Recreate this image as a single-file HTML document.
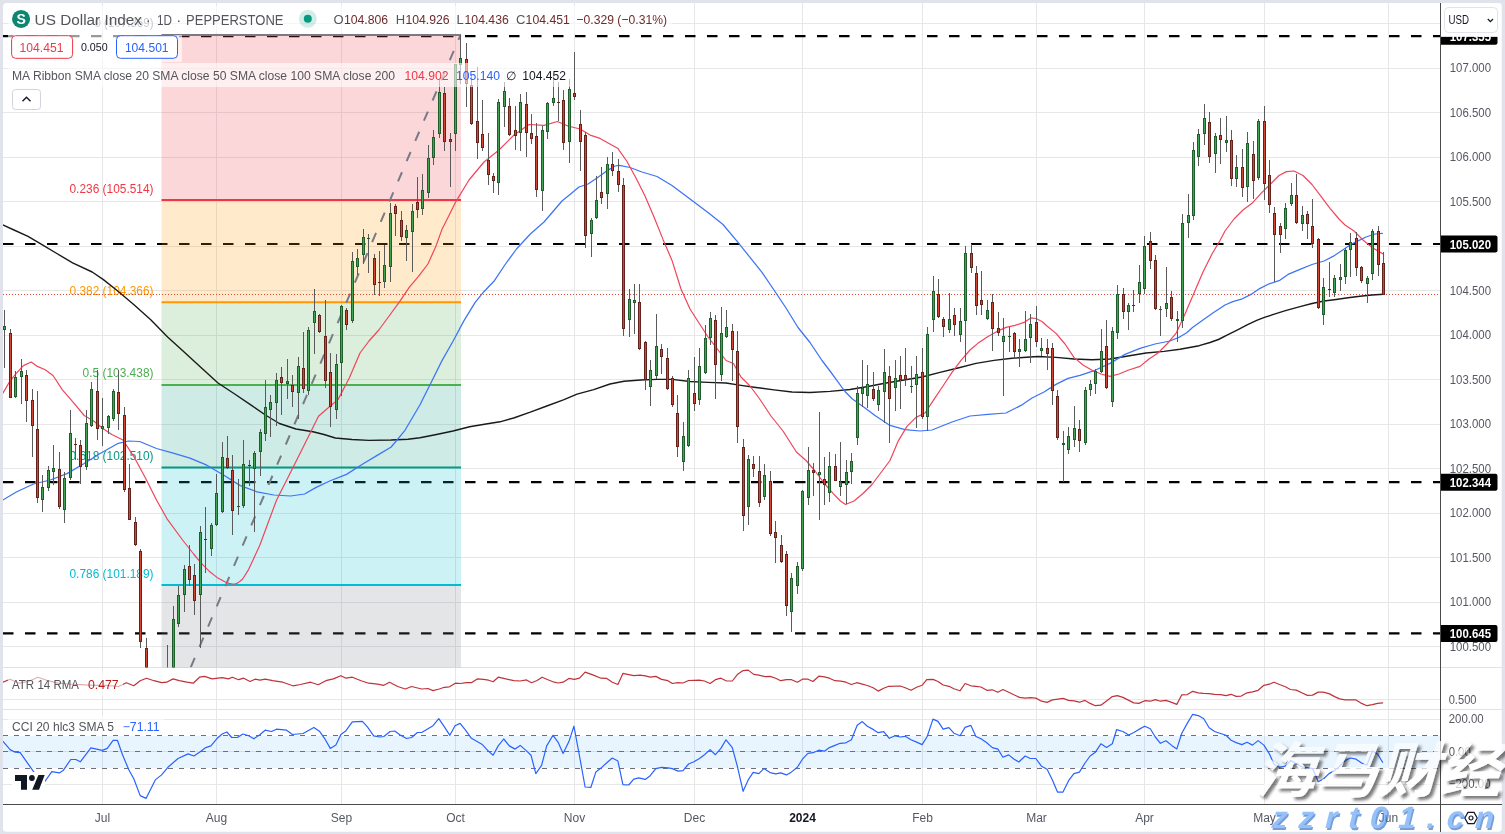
<!DOCTYPE html>
<html><head><meta charset="utf-8"><title>US Dollar Index chart</title>
<style>html,body{margin:0;padding:0;background:#e0e3eb;}body{width:1505px;height:834px;overflow:hidden;position:relative;font-family:"Liberation Sans",sans-serif;}</style>
</head><body>
<svg width="1505" height="834" viewBox="0 0 1505 834" font-family="Liberation Sans, sans-serif" style="position:absolute;left:0;top:0;will-change:transform">
<defs>
<clipPath id="c1"><rect x="3" y="3" width="1437.5" height="664.5"/></clipPath>
<clipPath id="c2"><rect x="3" y="668" width="1437.5" height="41.5"/></clipPath>
<clipPath id="c3"><rect x="3" y="710" width="1437.5" height="94"/></clipPath>
<filter id="sh" x="-5%" y="-10%" width="115%" height="130%"><feDropShadow dx="3" dy="3" stdDeviation="1.6" flood-color="#1a1a1a" flood-opacity="0.8"/></filter>
</defs>
<rect x="0" y="0" width="1505" height="834" fill="#e0e3eb"/>
<rect x="3" y="3" width="1498.7" height="828.7" rx="3.5" fill="#fff"/>
<g shape-rendering="crispEdges">
<line x1="3" x2="1440.5" y1="23.5" y2="23.5" stroke="#e7e7e8" stroke-width="1"/>
<line x1="3" x2="1440.5" y1="68.5" y2="68.5" stroke="#e7e7e8" stroke-width="1"/>
<line x1="3" x2="1440.5" y1="112.5" y2="112.5" stroke="#e7e7e8" stroke-width="1"/>
<line x1="3" x2="1440.5" y1="157.5" y2="157.5" stroke="#e7e7e8" stroke-width="1"/>
<line x1="3" x2="1440.5" y1="201.5" y2="201.5" stroke="#e7e7e8" stroke-width="1"/>
<line x1="3" x2="1440.5" y1="246.5" y2="246.5" stroke="#e7e7e8" stroke-width="1"/>
<line x1="3" x2="1440.5" y1="290.5" y2="290.5" stroke="#e7e7e8" stroke-width="1"/>
<line x1="3" x2="1440.5" y1="335.5" y2="335.5" stroke="#e7e7e8" stroke-width="1"/>
<line x1="3" x2="1440.5" y1="379.5" y2="379.5" stroke="#e7e7e8" stroke-width="1"/>
<line x1="3" x2="1440.5" y1="424.5" y2="424.5" stroke="#e7e7e8" stroke-width="1"/>
<line x1="3" x2="1440.5" y1="468.5" y2="468.5" stroke="#e7e7e8" stroke-width="1"/>
<line x1="3" x2="1440.5" y1="513.5" y2="513.5" stroke="#e7e7e8" stroke-width="1"/>
<line x1="3" x2="1440.5" y1="557.5" y2="557.5" stroke="#e7e7e8" stroke-width="1"/>
<line x1="3" x2="1440.5" y1="602.5" y2="602.5" stroke="#e7e7e8" stroke-width="1"/>
<line x1="3" x2="1440.5" y1="646.5" y2="646.5" stroke="#e7e7e8" stroke-width="1"/>
<line x1="3" x2="1440.5" y1="699.5" y2="699.5" stroke="#e7e7e8"/>
<line x1="3" x2="1440.5" y1="719.5" y2="719.5" stroke="#e7e7e8"/>
<line x1="3" x2="1440.5" y1="751.5" y2="751.5" stroke="#e7e7e8"/>
<line x1="3" x2="1440.5" y1="784.5" y2="784.5" stroke="#e7e7e8"/>
<line x1="102.5" x2="102.5" y1="3" y2="804" stroke="#e7e7e8"/>
<line x1="216.5" x2="216.5" y1="3" y2="804" stroke="#e7e7e8"/>
<line x1="341.5" x2="341.5" y1="3" y2="804" stroke="#e7e7e8"/>
<line x1="455.5" x2="455.5" y1="3" y2="804" stroke="#e7e7e8"/>
<line x1="574.5" x2="574.5" y1="3" y2="804" stroke="#e7e7e8"/>
<line x1="694.5" x2="694.5" y1="3" y2="804" stroke="#e7e7e8"/>
<line x1="802.5" x2="802.5" y1="3" y2="804" stroke="#e7e7e8"/>
<line x1="922.5" x2="922.5" y1="3" y2="804" stroke="#e7e7e8"/>
<line x1="1036.5" x2="1036.5" y1="3" y2="804" stroke="#e7e7e8"/>
<line x1="1144.5" x2="1144.5" y1="3" y2="804" stroke="#e7e7e8"/>
<line x1="1264.5" x2="1264.5" y1="3" y2="804" stroke="#e7e7e8"/>
<line x1="1388.5" x2="1388.5" y1="3" y2="804" stroke="#e7e7e8"/>
<line x1="3" x2="1501.7" y1="667.5" y2="667.5" stroke="#dfe2ea" stroke-width="1"/>
<line x1="3" x2="1501.7" y1="709.5" y2="709.5" stroke="#dfe2ea" stroke-width="1"/>
</g>
<g clip-path="url(#c1)">
<line x1="3" x2="1440.5" y1="36.2" y2="36.2" stroke="#000" stroke-width="2.2" stroke-dasharray="10.5 11.5"/>
<line x1="3" x2="1440.5" y1="244.0" y2="244.0" stroke="#000" stroke-width="2.2" stroke-dasharray="10.5 11.5"/>
<line x1="3" x2="1440.5" y1="482.2" y2="482.2" stroke="#000" stroke-width="2.2" stroke-dasharray="10.5 11.5"/>
<line x1="3" x2="1440.5" y1="633.4" y2="633.4" stroke="#000" stroke-width="2.2" stroke-dasharray="10.5 11.5"/>
<rect x="161.5" y="35.0" width="299.5" height="165.2" fill="#f23645" fill-opacity="0.2"/>
<rect x="161.5" y="200.1" width="299.5" height="102.2" fill="#ff9800" fill-opacity="0.2"/>
<rect x="161.5" y="302.3" width="299.5" height="82.6" fill="#4caf50" fill-opacity="0.2"/>
<rect x="161.5" y="384.9" width="299.5" height="82.6" fill="#089981" fill-opacity="0.2"/>
<rect x="161.5" y="467.5" width="299.5" height="117.6" fill="#00bcd4" fill-opacity="0.2"/>
<rect x="161.5" y="585.1" width="299.5" height="149.8" fill="#787b86" fill-opacity="0.2"/>
<line x1="161.5" x2="461" y1="35.0" y2="35.0" stroke="#787b86" stroke-width="2"/>
<line x1="161.5" x2="461" y1="200.1" y2="200.1" stroke="#f23645" stroke-width="2"/>
<line x1="161.5" x2="461" y1="302.3" y2="302.3" stroke="#ff9800" stroke-width="2"/>
<line x1="161.5" x2="461" y1="384.9" y2="384.9" stroke="#4caf50" stroke-width="2"/>
<line x1="161.5" x2="461" y1="467.5" y2="467.5" stroke="#089981" stroke-width="2"/>
<line x1="161.5" x2="461" y1="585.1" y2="585.1" stroke="#00bcd4" stroke-width="2"/>
<line x1="161.5" x2="461" y1="734.9" y2="734.9" stroke="#787b86" stroke-width="2"/>
<text x="94.5" y="27.4" font-size="12.3" fill="#787b86" text-anchor="start" textLength="59.0" lengthAdjust="spacingAndGlyphs" >0 (107.369)</text>
<text x="69.5" y="192.5" font-size="12.3" fill="#f23645" text-anchor="start" textLength="84.0" lengthAdjust="spacingAndGlyphs" >0.236 (105.514)</text>
<text x="69.5" y="294.7" font-size="12.3" fill="#ff9800" text-anchor="start" textLength="84.0" lengthAdjust="spacingAndGlyphs" >0.382 (104.366)</text>
<text x="82.5" y="377.3" font-size="12.3" fill="#4caf50" text-anchor="start" textLength="71.0" lengthAdjust="spacingAndGlyphs" >0.5 (103.438)</text>
<text x="69.5" y="459.9" font-size="12.3" fill="#089981" text-anchor="start" textLength="84.0" lengthAdjust="spacingAndGlyphs" >0.618 (102.510)</text>
<text x="69.5" y="577.5" font-size="12.3" fill="#00bcd4" text-anchor="start" textLength="84.0" lengthAdjust="spacingAndGlyphs" >0.786 (101.189)</text>
<line x1="3" x2="1440.5" y1="294.5" y2="294.5" stroke="#e0492f" stroke-width="1" stroke-dasharray="1 2" shape-rendering="crispEdges"/>
<line x1="460.5" y1="35.0" x2="161.9" y2="734.9" stroke="#787b86" stroke-width="2" stroke-dasharray="10 12" stroke-dashoffset="4.8"/>
<polyline points="2.8,225.0 14.0,230.0 28.0,236.3 42.0,244.7 56.0,253.0 72.6,262.9 92.2,272.0 103.4,279.6 117.4,290.8 134.0,304.8 151.0,320.0 167.6,337.0 184.4,352.3 201.0,367.6 218.0,383.0 234.7,394.0 251.5,405.4 265.4,415.0 279.4,423.5 296.0,429.0 313.0,431.7 324.0,434.5 335.3,438.0 352.0,439.5 368.8,440.4 391.2,440.0 408.0,439.2 420.0,437.8 436.5,434.5 453.0,431.0 469.6,426.8 486.0,424.0 500.0,421.8 513.7,418.0 530.3,412.2 546.8,406.0 563.4,399.8 577.0,394.2 593.7,389.6 610.0,384.0 624.0,381.3 640.6,380.0 657.0,379.4 672.0,379.4 690.0,381.5 708.0,382.4 726.0,383.0 741.0,385.4 756.0,387.5 774.0,389.9 792.0,392.0 810.0,392.5 830.0,391.4 850.0,389.5 868.0,386.5 886.0,383.0 904.0,380.0 922.0,377.0 940.0,372.4 958.0,368.0 976.0,363.4 994.0,360.4 1012.0,358.3 1030.0,357.0 1038.0,356.5 1056.0,357.4 1074.0,359.0 1092.0,359.8 1110.0,359.0 1128.0,356.0 1146.0,353.0 1164.0,351.4 1180.0,349.3 1199.2,345.7 1210.0,342.5 1218.4,339.5 1228.0,334.7 1237.6,329.9 1247.1,324.9 1256.7,320.3 1264.4,317.4 1275.9,313.6 1285.5,310.7 1300.0,306.7 1312.0,303.5 1324.0,301.0 1336.0,299.5 1348.0,297.8 1360.0,296.3 1372.0,295.0 1383.6,294.2" fill="none" stroke="#1a1a1a" stroke-width="1.4" stroke-linejoin="round" stroke-linecap="round" />
<polyline points="2.8,500.0 16.8,491.8 33.5,484.0 50.3,480.0 67.0,473.6 83.8,463.8 100.6,453.2 117.4,443.7 128.5,441.0 139.7,441.5 156.5,448.5 173.2,453.2 190.0,458.2 206.8,465.2 223.5,475.0 240.3,485.6 257.0,491.8 273.8,495.0 290.6,496.0 304.6,494.0 315.7,487.6 329.7,481.0 346.5,474.4 363.2,463.8 377.2,455.4 391.2,447.0 405.0,430.3 420.0,404.7 431.0,382.7 442.0,360.6 453.0,341.3 464.0,320.6 475.0,302.7 483.4,292.2 494.4,280.7 505.5,264.0 516.5,249.0 530.3,234.0 544.0,222.0 562.0,201.0 570.0,194.5 579.0,187.0 588.0,184.0 597.0,178.0 606.0,171.4 615.0,166.0 619.5,165.4 630.0,167.5 642.0,172.0 657.0,176.5 672.0,185.5 690.0,199.0 708.0,212.5 723.0,224.5 738.0,242.4 750.0,257.4 762.0,272.4 774.0,290.0 786.0,308.0 798.0,327.5 810.0,342.5 822.0,360.5 830.0,371.0 845.0,391.5 852.4,399.0 863.0,406.5 875.0,415.5 890.0,425.4 905.0,429.6 920.0,431.0 932.0,430.0 937.0,428.0 952.0,422.0 970.0,416.0 988.0,414.4 1006.0,413.0 1021.0,405.4 1032.0,398.0 1044.0,392.0 1056.0,384.4 1068.0,378.4 1080.0,375.4 1095.0,370.3 1110.0,363.4 1125.0,354.4 1140.0,348.4 1155.0,344.0 1170.0,341.0 1180.0,336.8 1186.7,332.8 1192.5,327.5 1204.0,319.3 1213.6,312.6 1225.0,305.0 1232.8,301.6 1241.4,299.2 1251.0,294.4 1259.6,288.6 1269.2,283.8 1279.8,280.3 1288.0,274.4 1300.0,269.3 1312.0,264.5 1324.0,261.0 1333.0,256.4 1342.0,250.4 1350.0,245.0 1357.0,241.4 1366.0,237.0 1375.0,234.0 1382.4,233.3" fill="none" stroke="#3d74f5" stroke-width="1.25" stroke-linejoin="round" stroke-linecap="round" />
<polyline points="3.1,392.9 9.4,382.0 15.6,374.2 23.4,365.6 31.2,362.0 37.4,366.4 45.2,369.8 53.0,375.5 62.4,389.8 73.3,402.3 84.2,415.5 93.6,421.0 102.8,428.5 111.8,434.5 123.0,440.0 134.0,456.8 145.3,477.8 156.5,500.0 167.6,519.7 182.6,540.0 193.6,554.0 201.4,563.4 209.2,571.2 217.0,577.4 224.8,581.8 229.0,583.4 232.6,584.0 235.5,583.8 238.0,582.9 242.7,579.0 248.1,570.4 253.6,558.7 260.0,544.7 268.2,522.5 276.6,500.0 290.6,472.2 304.6,444.3 318.5,416.3 329.7,406.5 338.0,399.6 349.3,378.0 360.0,353.0 369.0,341.0 378.8,330.0 387.3,318.5 399.8,301.4 409.2,287.3 418.5,276.4 427.9,264.0 435.7,246.8 441.9,229.6 448.1,217.2 455.9,201.6 469.0,180.0 484.0,162.0 499.0,150.0 514.0,135.0 529.0,124.5 544.0,125.4 557.4,121.5 568.0,126.0 580.0,129.0 591.0,135.4 600.0,138.4 609.0,143.5 618.0,148.6 627.0,161.5 636.0,178.0 645.0,196.0 654.0,217.0 663.0,239.4 672.0,260.4 681.0,289.0 690.0,309.0 699.0,323.0 708.0,337.0 717.0,348.5 726.0,360.5 733.4,363.5 741.0,377.0 750.0,386.0 759.0,398.0 771.0,416.0 783.0,431.0 796.4,452.0 806.0,460.5 815.0,471.0 824.0,483.0 833.0,493.4 840.4,501.0 845.5,504.5 854.0,501.0 863.0,493.5 872.0,484.5 881.0,472.5 890.0,460.5 898.0,441.4 907.0,426.4 916.0,417.4 925.0,413.0 934.0,399.4 943.0,386.0 952.0,372.4 961.0,360.4 970.0,350.0 979.0,342.4 988.0,336.4 997.0,331.4 1006.0,327.4 1015.0,325.4 1024.0,322.4 1030.8,317.9 1036.0,318.5 1042.0,321.5 1047.0,326.0 1056.0,333.4 1065.0,344.0 1074.0,357.4 1083.0,365.0 1092.0,370.3 1101.0,374.0 1110.0,376.3 1119.0,374.0 1128.0,370.3 1140.0,366.4 1149.0,359.0 1158.0,353.0 1167.0,344.0 1176.0,333.4 1185.0,314.0 1194.0,293.0 1203.0,272.0 1212.0,254.0 1220.0,240.5 1225.0,231.0 1234.0,219.0 1243.0,210.0 1252.0,203.3 1261.0,193.4 1270.0,184.5 1279.0,175.5 1286.4,171.6 1294.0,171.0 1303.0,175.5 1312.0,184.5 1321.0,196.4 1330.0,208.4 1339.0,219.0 1345.0,225.0 1354.0,231.0 1363.0,240.0 1372.0,247.4 1383.6,254.3" fill="none" stroke="#f0455a" stroke-width="1.2" stroke-linejoin="round" stroke-linecap="round" />
<g shape-rendering="crispEdges">
<rect x="4" y="310" width="1" height="58" fill="#5a5a5a"/>
<rect x="3" y="326" width="3" height="4" fill="#1d5e2b"/>
<rect x="4" y="327" width="1" height="2" fill="#41a353"/>
<rect x="10" y="329" width="1" height="69" fill="#5a5a5a"/>
<rect x="9" y="333" width="3" height="65" fill="#64221a"/>
<rect x="10" y="334" width="1" height="63" fill="#cf4733"/>
<rect x="15" y="371" width="1" height="27" fill="#5a5a5a"/>
<rect x="14" y="377" width="3" height="20" fill="#1d5e2b"/>
<rect x="15" y="378" width="1" height="18" fill="#41a353"/>
<rect x="21" y="359" width="1" height="45" fill="#5a5a5a"/>
<rect x="20" y="371" width="3" height="6" fill="#1d5e2b"/>
<rect x="21" y="372" width="1" height="4" fill="#41a353"/>
<rect x="26" y="370" width="1" height="52" fill="#5a5a5a"/>
<rect x="25" y="375" width="3" height="26" fill="#64221a"/>
<rect x="26" y="376" width="1" height="24" fill="#cf4733"/>
<rect x="32" y="389" width="1" height="68" fill="#5a5a5a"/>
<rect x="31" y="400" width="3" height="26" fill="#64221a"/>
<rect x="32" y="401" width="1" height="24" fill="#cf4733"/>
<rect x="37" y="391" width="1" height="112" fill="#5a5a5a"/>
<rect x="36" y="429" width="3" height="69" fill="#64221a"/>
<rect x="37" y="430" width="1" height="67" fill="#cf4733"/>
<rect x="42" y="475" width="1" height="37" fill="#5a5a5a"/>
<rect x="41" y="487" width="3" height="13" fill="#1d5e2b"/>
<rect x="42" y="488" width="1" height="11" fill="#41a353"/>
<rect x="48" y="466" width="1" height="25" fill="#5a5a5a"/>
<rect x="47" y="470" width="3" height="18" fill="#1d5e2b"/>
<rect x="48" y="471" width="1" height="16" fill="#41a353"/>
<rect x="53" y="445" width="1" height="40" fill="#5a5a5a"/>
<rect x="52" y="468" width="3" height="4" fill="#1d5e2b"/>
<rect x="53" y="469" width="1" height="2" fill="#41a353"/>
<rect x="59" y="452" width="1" height="57" fill="#5a5a5a"/>
<rect x="58" y="469" width="3" height="38" fill="#64221a"/>
<rect x="59" y="470" width="1" height="36" fill="#cf4733"/>
<rect x="64" y="472" width="1" height="51" fill="#5a5a5a"/>
<rect x="63" y="478" width="3" height="32" fill="#1d5e2b"/>
<rect x="64" y="479" width="1" height="30" fill="#41a353"/>
<rect x="70" y="410" width="1" height="70" fill="#5a5a5a"/>
<rect x="69" y="433" width="3" height="45" fill="#1d5e2b"/>
<rect x="70" y="434" width="1" height="43" fill="#41a353"/>
<rect x="75" y="438" width="1" height="22" fill="#5a5a5a"/>
<rect x="74" y="444" width="3" height="1" fill="#64221a"/>
<rect x="80" y="440" width="1" height="44" fill="#5a5a5a"/>
<rect x="79" y="445" width="3" height="22" fill="#64221a"/>
<rect x="80" y="446" width="1" height="20" fill="#cf4733"/>
<rect x="86" y="410" width="1" height="60" fill="#5a5a5a"/>
<rect x="85" y="423" width="3" height="44" fill="#1d5e2b"/>
<rect x="86" y="424" width="1" height="42" fill="#41a353"/>
<rect x="91" y="382" width="1" height="45" fill="#5a5a5a"/>
<rect x="90" y="389" width="3" height="37" fill="#1d5e2b"/>
<rect x="91" y="390" width="1" height="35" fill="#41a353"/>
<rect x="97" y="370" width="1" height="70" fill="#5a5a5a"/>
<rect x="96" y="391" width="3" height="38" fill="#64221a"/>
<rect x="97" y="392" width="1" height="36" fill="#cf4733"/>
<rect x="102" y="398" width="1" height="48" fill="#5a5a5a"/>
<rect x="101" y="426" width="3" height="3" fill="#1d5e2b"/>
<rect x="102" y="427" width="1" height="1" fill="#41a353"/>
<rect x="108" y="415" width="1" height="19" fill="#5a5a5a"/>
<rect x="107" y="416" width="3" height="12" fill="#1d5e2b"/>
<rect x="108" y="417" width="1" height="10" fill="#41a353"/>
<rect x="113" y="389" width="1" height="32" fill="#5a5a5a"/>
<rect x="112" y="391" width="3" height="28" fill="#1d5e2b"/>
<rect x="113" y="392" width="1" height="26" fill="#41a353"/>
<rect x="118" y="370" width="1" height="60" fill="#5a5a5a"/>
<rect x="117" y="392" width="3" height="22" fill="#64221a"/>
<rect x="118" y="393" width="1" height="20" fill="#cf4733"/>
<rect x="124" y="407" width="1" height="85" fill="#5a5a5a"/>
<rect x="123" y="415" width="3" height="75" fill="#64221a"/>
<rect x="124" y="416" width="1" height="73" fill="#cf4733"/>
<rect x="129" y="464" width="1" height="56" fill="#5a5a5a"/>
<rect x="128" y="488" width="3" height="32" fill="#64221a"/>
<rect x="129" y="489" width="1" height="30" fill="#cf4733"/>
<rect x="135" y="517" width="1" height="29" fill="#5a5a5a"/>
<rect x="134" y="522" width="3" height="23" fill="#64221a"/>
<rect x="135" y="523" width="1" height="21" fill="#cf4733"/>
<rect x="140" y="549" width="1" height="99" fill="#5a5a5a"/>
<rect x="139" y="551" width="3" height="91" fill="#64221a"/>
<rect x="140" y="552" width="1" height="89" fill="#cf4733"/>
<rect x="146" y="638" width="1" height="58" fill="#5a5a5a"/>
<rect x="145" y="648" width="3" height="42" fill="#64221a"/>
<rect x="146" y="649" width="1" height="40" fill="#cf4733"/>
<rect x="151" y="687" width="1" height="36" fill="#5a5a5a"/>
<rect x="150" y="690" width="3" height="30" fill="#64221a"/>
<rect x="151" y="691" width="1" height="28" fill="#cf4733"/>
<rect x="156" y="720" width="1" height="33" fill="#5a5a5a"/>
<rect x="155" y="720" width="3" height="30" fill="#64221a"/>
<rect x="156" y="721" width="1" height="28" fill="#cf4733"/>
<rect x="162" y="717" width="1" height="36" fill="#5a5a5a"/>
<rect x="161" y="720" width="3" height="30" fill="#1d5e2b"/>
<rect x="162" y="721" width="1" height="28" fill="#41a353"/>
<rect x="167" y="645" width="1" height="78" fill="#5a5a5a"/>
<rect x="166" y="690" width="3" height="30" fill="#1d5e2b"/>
<rect x="167" y="691" width="1" height="28" fill="#41a353"/>
<rect x="173" y="606" width="1" height="85" fill="#5a5a5a"/>
<rect x="172" y="619" width="3" height="71" fill="#1d5e2b"/>
<rect x="173" y="620" width="1" height="69" fill="#41a353"/>
<rect x="178" y="586" width="1" height="41" fill="#5a5a5a"/>
<rect x="177" y="595" width="3" height="29" fill="#1d5e2b"/>
<rect x="178" y="596" width="1" height="27" fill="#41a353"/>
<rect x="184" y="565" width="1" height="47" fill="#5a5a5a"/>
<rect x="183" y="569" width="3" height="26" fill="#1d5e2b"/>
<rect x="184" y="570" width="1" height="24" fill="#41a353"/>
<rect x="189" y="545" width="1" height="41" fill="#5a5a5a"/>
<rect x="188" y="566" width="3" height="14" fill="#64221a"/>
<rect x="189" y="567" width="1" height="12" fill="#cf4733"/>
<rect x="194" y="564" width="1" height="51" fill="#5a5a5a"/>
<rect x="193" y="575" width="3" height="26" fill="#64221a"/>
<rect x="194" y="576" width="1" height="24" fill="#cf4733"/>
<rect x="200" y="526" width="1" height="122" fill="#5a5a5a"/>
<rect x="199" y="532" width="3" height="63" fill="#1d5e2b"/>
<rect x="200" y="533" width="1" height="61" fill="#41a353"/>
<rect x="205" y="507" width="1" height="66" fill="#5a5a5a"/>
<rect x="204" y="539" width="3" height="1" fill="#64221a"/>
<rect x="211" y="523" width="1" height="33" fill="#5a5a5a"/>
<rect x="210" y="525" width="3" height="24" fill="#1d5e2b"/>
<rect x="211" y="526" width="1" height="22" fill="#41a353"/>
<rect x="216" y="474" width="1" height="52" fill="#5a5a5a"/>
<rect x="215" y="493" width="3" height="32" fill="#1d5e2b"/>
<rect x="216" y="494" width="1" height="30" fill="#41a353"/>
<rect x="222" y="442" width="1" height="71" fill="#5a5a5a"/>
<rect x="221" y="457" width="3" height="55" fill="#1d5e2b"/>
<rect x="222" y="458" width="1" height="53" fill="#41a353"/>
<rect x="227" y="436" width="1" height="33" fill="#5a5a5a"/>
<rect x="226" y="458" width="3" height="10" fill="#64221a"/>
<rect x="227" y="459" width="1" height="8" fill="#cf4733"/>
<rect x="232" y="455" width="1" height="80" fill="#5a5a5a"/>
<rect x="231" y="470" width="3" height="41" fill="#64221a"/>
<rect x="232" y="471" width="1" height="39" fill="#cf4733"/>
<rect x="238" y="479" width="1" height="36" fill="#5a5a5a"/>
<rect x="237" y="506" width="3" height="1" fill="#1d5e2b"/>
<rect x="243" y="440" width="1" height="68" fill="#5a5a5a"/>
<rect x="242" y="464" width="3" height="42" fill="#1d5e2b"/>
<rect x="243" y="465" width="1" height="40" fill="#41a353"/>
<rect x="249" y="460" width="1" height="26" fill="#5a5a5a"/>
<rect x="248" y="465" width="3" height="1" fill="#64221a"/>
<rect x="254" y="451" width="1" height="81" fill="#5a5a5a"/>
<rect x="253" y="453" width="3" height="16" fill="#1d5e2b"/>
<rect x="254" y="454" width="1" height="14" fill="#41a353"/>
<rect x="260" y="429" width="1" height="47" fill="#5a5a5a"/>
<rect x="259" y="432" width="3" height="20" fill="#1d5e2b"/>
<rect x="260" y="433" width="1" height="18" fill="#41a353"/>
<rect x="265" y="380" width="1" height="61" fill="#5a5a5a"/>
<rect x="264" y="407" width="3" height="27" fill="#1d5e2b"/>
<rect x="265" y="408" width="1" height="25" fill="#41a353"/>
<rect x="270" y="395" width="1" height="42" fill="#5a5a5a"/>
<rect x="269" y="402" width="3" height="8" fill="#1d5e2b"/>
<rect x="270" y="403" width="1" height="6" fill="#41a353"/>
<rect x="276" y="373" width="1" height="53" fill="#5a5a5a"/>
<rect x="275" y="380" width="3" height="23" fill="#1d5e2b"/>
<rect x="276" y="381" width="1" height="21" fill="#41a353"/>
<rect x="281" y="367" width="1" height="48" fill="#5a5a5a"/>
<rect x="280" y="377" width="3" height="6" fill="#64221a"/>
<rect x="281" y="378" width="1" height="4" fill="#cf4733"/>
<rect x="287" y="359" width="1" height="40" fill="#5a5a5a"/>
<rect x="286" y="381" width="3" height="3" fill="#1d5e2b"/>
<rect x="287" y="382" width="1" height="1" fill="#41a353"/>
<rect x="292" y="375" width="1" height="32" fill="#5a5a5a"/>
<rect x="291" y="385" width="3" height="7" fill="#64221a"/>
<rect x="292" y="386" width="1" height="5" fill="#cf4733"/>
<rect x="298" y="357" width="1" height="62" fill="#5a5a5a"/>
<rect x="297" y="366" width="3" height="27" fill="#1d5e2b"/>
<rect x="298" y="367" width="1" height="25" fill="#41a353"/>
<rect x="303" y="332" width="1" height="61" fill="#5a5a5a"/>
<rect x="302" y="368" width="3" height="21" fill="#64221a"/>
<rect x="303" y="369" width="1" height="19" fill="#cf4733"/>
<rect x="308" y="327" width="1" height="68" fill="#5a5a5a"/>
<rect x="307" y="330" width="3" height="61" fill="#1d5e2b"/>
<rect x="308" y="331" width="1" height="59" fill="#41a353"/>
<rect x="314" y="289" width="1" height="65" fill="#5a5a5a"/>
<rect x="313" y="311" width="3" height="12" fill="#1d5e2b"/>
<rect x="314" y="312" width="1" height="10" fill="#41a353"/>
<rect x="319" y="314" width="1" height="19" fill="#5a5a5a"/>
<rect x="318" y="315" width="3" height="17" fill="#64221a"/>
<rect x="319" y="316" width="1" height="15" fill="#cf4733"/>
<rect x="325" y="300" width="1" height="88" fill="#5a5a5a"/>
<rect x="324" y="336" width="3" height="45" fill="#64221a"/>
<rect x="325" y="337" width="1" height="43" fill="#cf4733"/>
<rect x="330" y="353" width="1" height="74" fill="#5a5a5a"/>
<rect x="329" y="372" width="3" height="35" fill="#64221a"/>
<rect x="330" y="373" width="1" height="33" fill="#cf4733"/>
<rect x="336" y="354" width="1" height="65" fill="#5a5a5a"/>
<rect x="335" y="364" width="3" height="46" fill="#1d5e2b"/>
<rect x="336" y="365" width="1" height="44" fill="#41a353"/>
<rect x="341" y="305" width="1" height="91" fill="#5a5a5a"/>
<rect x="340" y="306" width="3" height="57" fill="#1d5e2b"/>
<rect x="341" y="307" width="1" height="55" fill="#41a353"/>
<rect x="346" y="308" width="1" height="22" fill="#5a5a5a"/>
<rect x="345" y="310" width="3" height="15" fill="#64221a"/>
<rect x="346" y="311" width="1" height="13" fill="#cf4733"/>
<rect x="352" y="252" width="1" height="71" fill="#5a5a5a"/>
<rect x="351" y="261" width="3" height="60" fill="#1d5e2b"/>
<rect x="352" y="262" width="1" height="58" fill="#41a353"/>
<rect x="357" y="249" width="1" height="26" fill="#5a5a5a"/>
<rect x="356" y="258" width="3" height="9" fill="#1d5e2b"/>
<rect x="357" y="259" width="1" height="7" fill="#41a353"/>
<rect x="363" y="229" width="1" height="35" fill="#5a5a5a"/>
<rect x="362" y="237" width="3" height="18" fill="#1d5e2b"/>
<rect x="363" y="238" width="1" height="16" fill="#41a353"/>
<rect x="368" y="234" width="1" height="39" fill="#5a5a5a"/>
<rect x="367" y="238" width="3" height="1" fill="#1d5e2b"/>
<rect x="374" y="254" width="1" height="41" fill="#5a5a5a"/>
<rect x="373" y="258" width="3" height="27" fill="#64221a"/>
<rect x="374" y="259" width="1" height="25" fill="#cf4733"/>
<rect x="379" y="251" width="1" height="45" fill="#5a5a5a"/>
<rect x="378" y="282" width="3" height="1" fill="#64221a"/>
<rect x="384" y="245" width="1" height="43" fill="#5a5a5a"/>
<rect x="383" y="265" width="3" height="17" fill="#1d5e2b"/>
<rect x="384" y="266" width="1" height="15" fill="#41a353"/>
<rect x="390" y="203" width="1" height="79" fill="#5a5a5a"/>
<rect x="389" y="213" width="3" height="54" fill="#1d5e2b"/>
<rect x="390" y="214" width="1" height="52" fill="#41a353"/>
<rect x="395" y="204" width="1" height="32" fill="#5a5a5a"/>
<rect x="394" y="206" width="3" height="8" fill="#64221a"/>
<rect x="395" y="207" width="1" height="6" fill="#cf4733"/>
<rect x="401" y="211" width="1" height="30" fill="#5a5a5a"/>
<rect x="400" y="220" width="3" height="17" fill="#64221a"/>
<rect x="401" y="221" width="1" height="15" fill="#cf4733"/>
<rect x="406" y="225" width="1" height="36" fill="#5a5a5a"/>
<rect x="405" y="230" width="3" height="8" fill="#1d5e2b"/>
<rect x="406" y="231" width="1" height="6" fill="#41a353"/>
<rect x="412" y="204" width="1" height="68" fill="#5a5a5a"/>
<rect x="411" y="211" width="3" height="21" fill="#1d5e2b"/>
<rect x="412" y="212" width="1" height="19" fill="#41a353"/>
<rect x="417" y="177" width="1" height="41" fill="#5a5a5a"/>
<rect x="416" y="202" width="3" height="8" fill="#64221a"/>
<rect x="417" y="203" width="1" height="6" fill="#cf4733"/>
<rect x="422" y="174" width="1" height="41" fill="#5a5a5a"/>
<rect x="421" y="190" width="3" height="19" fill="#1d5e2b"/>
<rect x="422" y="191" width="1" height="17" fill="#41a353"/>
<rect x="428" y="145" width="1" height="53" fill="#5a5a5a"/>
<rect x="427" y="158" width="3" height="35" fill="#1d5e2b"/>
<rect x="428" y="159" width="1" height="33" fill="#41a353"/>
<rect x="433" y="130" width="1" height="35" fill="#5a5a5a"/>
<rect x="432" y="137" width="3" height="21" fill="#1d5e2b"/>
<rect x="433" y="138" width="1" height="19" fill="#41a353"/>
<rect x="439" y="79" width="1" height="59" fill="#5a5a5a"/>
<rect x="438" y="92" width="3" height="42" fill="#1d5e2b"/>
<rect x="439" y="93" width="1" height="40" fill="#41a353"/>
<rect x="444" y="87" width="1" height="64" fill="#5a5a5a"/>
<rect x="443" y="93" width="3" height="49" fill="#64221a"/>
<rect x="444" y="94" width="1" height="47" fill="#cf4733"/>
<rect x="450" y="133" width="1" height="54" fill="#5a5a5a"/>
<rect x="449" y="139" width="3" height="3" fill="#64221a"/>
<rect x="450" y="140" width="1" height="1" fill="#cf4733"/>
<rect x="455" y="64" width="1" height="87" fill="#5a5a5a"/>
<rect x="454" y="64" width="3" height="70" fill="#1d5e2b"/>
<rect x="455" y="65" width="1" height="68" fill="#41a353"/>
<rect x="460" y="35" width="1" height="49" fill="#5a5a5a"/>
<rect x="459" y="58" width="3" height="7" fill="#1d5e2b"/>
<rect x="460" y="59" width="1" height="5" fill="#41a353"/>
<rect x="466" y="43" width="1" height="64" fill="#5a5a5a"/>
<rect x="465" y="59" width="3" height="25" fill="#64221a"/>
<rect x="466" y="60" width="1" height="23" fill="#cf4733"/>
<rect x="471" y="75" width="1" height="50" fill="#5a5a5a"/>
<rect x="470" y="85" width="3" height="39" fill="#64221a"/>
<rect x="471" y="86" width="1" height="37" fill="#cf4733"/>
<rect x="477" y="67" width="1" height="92" fill="#5a5a5a"/>
<rect x="476" y="121" width="3" height="22" fill="#64221a"/>
<rect x="477" y="122" width="1" height="20" fill="#cf4733"/>
<rect x="482" y="100" width="1" height="51" fill="#5a5a5a"/>
<rect x="481" y="134" width="3" height="14" fill="#64221a"/>
<rect x="482" y="135" width="1" height="12" fill="#cf4733"/>
<rect x="488" y="133" width="1" height="52" fill="#5a5a5a"/>
<rect x="487" y="160" width="3" height="15" fill="#64221a"/>
<rect x="488" y="161" width="1" height="13" fill="#cf4733"/>
<rect x="493" y="173" width="1" height="20" fill="#5a5a5a"/>
<rect x="492" y="176" width="3" height="5" fill="#64221a"/>
<rect x="493" y="177" width="1" height="3" fill="#cf4733"/>
<rect x="498" y="99" width="1" height="96" fill="#5a5a5a"/>
<rect x="497" y="102" width="3" height="81" fill="#1d5e2b"/>
<rect x="498" y="103" width="1" height="79" fill="#41a353"/>
<rect x="504" y="82" width="1" height="45" fill="#5a5a5a"/>
<rect x="503" y="91" width="3" height="16" fill="#1d5e2b"/>
<rect x="504" y="92" width="1" height="14" fill="#41a353"/>
<rect x="509" y="98" width="1" height="38" fill="#5a5a5a"/>
<rect x="508" y="106" width="3" height="29" fill="#64221a"/>
<rect x="509" y="107" width="1" height="27" fill="#cf4733"/>
<rect x="515" y="106" width="1" height="44" fill="#5a5a5a"/>
<rect x="514" y="130" width="3" height="6" fill="#64221a"/>
<rect x="515" y="131" width="1" height="4" fill="#cf4733"/>
<rect x="520" y="94" width="1" height="57" fill="#5a5a5a"/>
<rect x="519" y="102" width="3" height="31" fill="#1d5e2b"/>
<rect x="520" y="103" width="1" height="29" fill="#41a353"/>
<rect x="526" y="92" width="1" height="65" fill="#5a5a5a"/>
<rect x="525" y="104" width="3" height="29" fill="#64221a"/>
<rect x="526" y="105" width="1" height="27" fill="#cf4733"/>
<rect x="531" y="114" width="1" height="30" fill="#5a5a5a"/>
<rect x="530" y="133" width="3" height="6" fill="#64221a"/>
<rect x="531" y="134" width="1" height="4" fill="#cf4733"/>
<rect x="536" y="123" width="1" height="74" fill="#5a5a5a"/>
<rect x="535" y="136" width="3" height="54" fill="#64221a"/>
<rect x="536" y="137" width="1" height="52" fill="#cf4733"/>
<rect x="542" y="126" width="1" height="85" fill="#5a5a5a"/>
<rect x="541" y="130" width="3" height="61" fill="#1d5e2b"/>
<rect x="542" y="131" width="1" height="59" fill="#41a353"/>
<rect x="547" y="102" width="1" height="37" fill="#5a5a5a"/>
<rect x="546" y="103" width="3" height="29" fill="#1d5e2b"/>
<rect x="547" y="104" width="1" height="27" fill="#41a353"/>
<rect x="553" y="75" width="1" height="31" fill="#5a5a5a"/>
<rect x="552" y="98" width="3" height="5" fill="#1d5e2b"/>
<rect x="553" y="99" width="1" height="3" fill="#41a353"/>
<rect x="558" y="82" width="1" height="39" fill="#5a5a5a"/>
<rect x="557" y="102" width="3" height="1" fill="#64221a"/>
<rect x="563" y="90" width="1" height="60" fill="#5a5a5a"/>
<rect x="562" y="100" width="3" height="43" fill="#64221a"/>
<rect x="563" y="101" width="1" height="41" fill="#cf4733"/>
<rect x="569" y="79" width="1" height="84" fill="#5a5a5a"/>
<rect x="568" y="89" width="3" height="53" fill="#1d5e2b"/>
<rect x="569" y="90" width="1" height="51" fill="#41a353"/>
<rect x="574" y="52" width="1" height="48" fill="#5a5a5a"/>
<rect x="573" y="93" width="3" height="4" fill="#64221a"/>
<rect x="574" y="94" width="1" height="2" fill="#cf4733"/>
<rect x="580" y="110" width="1" height="61" fill="#5a5a5a"/>
<rect x="579" y="124" width="3" height="18" fill="#64221a"/>
<rect x="580" y="125" width="1" height="16" fill="#cf4733"/>
<rect x="585" y="132" width="1" height="116" fill="#5a5a5a"/>
<rect x="584" y="135" width="3" height="101" fill="#64221a"/>
<rect x="585" y="136" width="1" height="99" fill="#cf4733"/>
<rect x="591" y="218" width="1" height="39" fill="#5a5a5a"/>
<rect x="590" y="220" width="3" height="14" fill="#1d5e2b"/>
<rect x="591" y="221" width="1" height="12" fill="#41a353"/>
<rect x="596" y="176" width="1" height="43" fill="#5a5a5a"/>
<rect x="595" y="200" width="3" height="18" fill="#1d5e2b"/>
<rect x="596" y="201" width="1" height="16" fill="#41a353"/>
<rect x="601" y="167" width="1" height="37" fill="#5a5a5a"/>
<rect x="600" y="192" width="3" height="6" fill="#64221a"/>
<rect x="601" y="193" width="1" height="4" fill="#cf4733"/>
<rect x="607" y="157" width="1" height="52" fill="#5a5a5a"/>
<rect x="606" y="164" width="3" height="30" fill="#1d5e2b"/>
<rect x="607" y="165" width="1" height="28" fill="#41a353"/>
<rect x="612" y="152" width="1" height="24" fill="#5a5a5a"/>
<rect x="611" y="164" width="3" height="7" fill="#64221a"/>
<rect x="612" y="165" width="1" height="5" fill="#cf4733"/>
<rect x="618" y="159" width="1" height="33" fill="#5a5a5a"/>
<rect x="617" y="171" width="3" height="14" fill="#64221a"/>
<rect x="618" y="172" width="1" height="12" fill="#cf4733"/>
<rect x="623" y="178" width="1" height="158" fill="#5a5a5a"/>
<rect x="622" y="185" width="3" height="144" fill="#64221a"/>
<rect x="623" y="186" width="1" height="142" fill="#cf4733"/>
<rect x="629" y="289" width="1" height="48" fill="#5a5a5a"/>
<rect x="628" y="299" width="3" height="21" fill="#1d5e2b"/>
<rect x="629" y="300" width="1" height="19" fill="#41a353"/>
<rect x="634" y="284" width="1" height="50" fill="#5a5a5a"/>
<rect x="633" y="300" width="3" height="3" fill="#1d5e2b"/>
<rect x="634" y="301" width="1" height="1" fill="#41a353"/>
<rect x="639" y="284" width="1" height="66" fill="#5a5a5a"/>
<rect x="638" y="302" width="3" height="47" fill="#64221a"/>
<rect x="639" y="303" width="1" height="45" fill="#cf4733"/>
<rect x="645" y="341" width="1" height="49" fill="#5a5a5a"/>
<rect x="644" y="342" width="3" height="38" fill="#64221a"/>
<rect x="645" y="343" width="1" height="36" fill="#cf4733"/>
<rect x="650" y="360" width="1" height="46" fill="#5a5a5a"/>
<rect x="649" y="370" width="3" height="17" fill="#1d5e2b"/>
<rect x="650" y="371" width="1" height="15" fill="#41a353"/>
<rect x="656" y="314" width="1" height="65" fill="#5a5a5a"/>
<rect x="655" y="346" width="3" height="30" fill="#1d5e2b"/>
<rect x="656" y="347" width="1" height="28" fill="#41a353"/>
<rect x="661" y="344" width="1" height="30" fill="#5a5a5a"/>
<rect x="660" y="349" width="3" height="8" fill="#64221a"/>
<rect x="661" y="350" width="1" height="6" fill="#cf4733"/>
<rect x="667" y="348" width="1" height="42" fill="#5a5a5a"/>
<rect x="666" y="358" width="3" height="31" fill="#64221a"/>
<rect x="667" y="359" width="1" height="29" fill="#cf4733"/>
<rect x="672" y="376" width="1" height="31" fill="#5a5a5a"/>
<rect x="671" y="378" width="3" height="27" fill="#64221a"/>
<rect x="672" y="379" width="1" height="25" fill="#cf4733"/>
<rect x="677" y="395" width="1" height="62" fill="#5a5a5a"/>
<rect x="676" y="413" width="3" height="34" fill="#64221a"/>
<rect x="677" y="414" width="1" height="32" fill="#cf4733"/>
<rect x="683" y="422" width="1" height="49" fill="#5a5a5a"/>
<rect x="682" y="436" width="3" height="26" fill="#1d5e2b"/>
<rect x="683" y="437" width="1" height="24" fill="#41a353"/>
<rect x="688" y="370" width="1" height="77" fill="#5a5a5a"/>
<rect x="687" y="378" width="3" height="68" fill="#1d5e2b"/>
<rect x="688" y="379" width="1" height="66" fill="#41a353"/>
<rect x="694" y="357" width="1" height="54" fill="#5a5a5a"/>
<rect x="693" y="393" width="3" height="11" fill="#64221a"/>
<rect x="694" y="394" width="1" height="9" fill="#cf4733"/>
<rect x="699" y="348" width="1" height="57" fill="#5a5a5a"/>
<rect x="698" y="366" width="3" height="34" fill="#1d5e2b"/>
<rect x="699" y="367" width="1" height="32" fill="#41a353"/>
<rect x="705" y="325" width="1" height="49" fill="#5a5a5a"/>
<rect x="704" y="338" width="3" height="35" fill="#1d5e2b"/>
<rect x="705" y="339" width="1" height="33" fill="#41a353"/>
<rect x="710" y="312" width="1" height="33" fill="#5a5a5a"/>
<rect x="709" y="318" width="3" height="20" fill="#1d5e2b"/>
<rect x="710" y="319" width="1" height="18" fill="#41a353"/>
<rect x="715" y="315" width="1" height="84" fill="#5a5a5a"/>
<rect x="714" y="320" width="3" height="45" fill="#64221a"/>
<rect x="715" y="321" width="1" height="43" fill="#cf4733"/>
<rect x="721" y="307" width="1" height="74" fill="#5a5a5a"/>
<rect x="720" y="333" width="3" height="42" fill="#1d5e2b"/>
<rect x="721" y="334" width="1" height="40" fill="#41a353"/>
<rect x="726" y="310" width="1" height="28" fill="#5a5a5a"/>
<rect x="725" y="327" width="3" height="10" fill="#1d5e2b"/>
<rect x="726" y="328" width="1" height="8" fill="#41a353"/>
<rect x="732" y="324" width="1" height="57" fill="#5a5a5a"/>
<rect x="731" y="331" width="3" height="19" fill="#64221a"/>
<rect x="732" y="332" width="1" height="17" fill="#cf4733"/>
<rect x="737" y="331" width="1" height="112" fill="#5a5a5a"/>
<rect x="736" y="351" width="3" height="76" fill="#64221a"/>
<rect x="737" y="352" width="1" height="74" fill="#cf4733"/>
<rect x="743" y="439" width="1" height="92" fill="#5a5a5a"/>
<rect x="742" y="447" width="3" height="69" fill="#64221a"/>
<rect x="743" y="448" width="1" height="67" fill="#cf4733"/>
<rect x="748" y="455" width="1" height="70" fill="#5a5a5a"/>
<rect x="747" y="459" width="3" height="48" fill="#1d5e2b"/>
<rect x="748" y="460" width="1" height="46" fill="#41a353"/>
<rect x="753" y="456" width="1" height="21" fill="#5a5a5a"/>
<rect x="752" y="464" width="3" height="5" fill="#64221a"/>
<rect x="753" y="465" width="1" height="3" fill="#cf4733"/>
<rect x="759" y="456" width="1" height="51" fill="#5a5a5a"/>
<rect x="758" y="471" width="3" height="32" fill="#64221a"/>
<rect x="759" y="472" width="1" height="30" fill="#cf4733"/>
<rect x="764" y="464" width="1" height="36" fill="#5a5a5a"/>
<rect x="763" y="475" width="3" height="22" fill="#1d5e2b"/>
<rect x="764" y="476" width="1" height="20" fill="#41a353"/>
<rect x="770" y="471" width="1" height="65" fill="#5a5a5a"/>
<rect x="769" y="481" width="3" height="53" fill="#64221a"/>
<rect x="770" y="482" width="1" height="51" fill="#cf4733"/>
<rect x="775" y="521" width="1" height="42" fill="#5a5a5a"/>
<rect x="774" y="532" width="3" height="6" fill="#64221a"/>
<rect x="775" y="533" width="1" height="4" fill="#cf4733"/>
<rect x="781" y="535" width="1" height="28" fill="#5a5a5a"/>
<rect x="780" y="545" width="3" height="17" fill="#64221a"/>
<rect x="781" y="546" width="1" height="15" fill="#cf4733"/>
<rect x="786" y="551" width="1" height="65" fill="#5a5a5a"/>
<rect x="785" y="554" width="3" height="52" fill="#64221a"/>
<rect x="786" y="555" width="1" height="50" fill="#cf4733"/>
<rect x="791" y="573" width="1" height="59" fill="#5a5a5a"/>
<rect x="790" y="578" width="3" height="34" fill="#1d5e2b"/>
<rect x="791" y="579" width="1" height="32" fill="#41a353"/>
<rect x="797" y="562" width="1" height="32" fill="#5a5a5a"/>
<rect x="796" y="566" width="3" height="20" fill="#1d5e2b"/>
<rect x="797" y="567" width="1" height="18" fill="#41a353"/>
<rect x="802" y="490" width="1" height="81" fill="#5a5a5a"/>
<rect x="801" y="491" width="3" height="78" fill="#1d5e2b"/>
<rect x="802" y="492" width="1" height="76" fill="#41a353"/>
<rect x="808" y="447" width="1" height="58" fill="#5a5a5a"/>
<rect x="807" y="470" width="3" height="28" fill="#1d5e2b"/>
<rect x="808" y="471" width="1" height="26" fill="#41a353"/>
<rect x="813" y="463" width="1" height="33" fill="#5a5a5a"/>
<rect x="812" y="470" width="3" height="3" fill="#64221a"/>
<rect x="813" y="471" width="1" height="1" fill="#cf4733"/>
<rect x="819" y="412" width="1" height="108" fill="#5a5a5a"/>
<rect x="818" y="472" width="3" height="3" fill="#1d5e2b"/>
<rect x="819" y="473" width="1" height="1" fill="#41a353"/>
<rect x="824" y="457" width="1" height="48" fill="#5a5a5a"/>
<rect x="823" y="479" width="3" height="6" fill="#64221a"/>
<rect x="824" y="480" width="1" height="4" fill="#cf4733"/>
<rect x="829" y="452" width="1" height="50" fill="#5a5a5a"/>
<rect x="828" y="466" width="3" height="27" fill="#1d5e2b"/>
<rect x="829" y="467" width="1" height="25" fill="#41a353"/>
<rect x="835" y="454" width="1" height="27" fill="#5a5a5a"/>
<rect x="834" y="466" width="3" height="15" fill="#64221a"/>
<rect x="835" y="467" width="1" height="13" fill="#cf4733"/>
<rect x="840" y="442" width="1" height="54" fill="#5a5a5a"/>
<rect x="839" y="482" width="3" height="5" fill="#1d5e2b"/>
<rect x="840" y="483" width="1" height="3" fill="#41a353"/>
<rect x="846" y="460" width="1" height="44" fill="#5a5a5a"/>
<rect x="845" y="472" width="3" height="13" fill="#1d5e2b"/>
<rect x="846" y="473" width="1" height="11" fill="#41a353"/>
<rect x="851" y="453" width="1" height="31" fill="#5a5a5a"/>
<rect x="850" y="461" width="3" height="11" fill="#1d5e2b"/>
<rect x="851" y="462" width="1" height="9" fill="#41a353"/>
<rect x="857" y="386" width="1" height="59" fill="#5a5a5a"/>
<rect x="856" y="393" width="3" height="45" fill="#1d5e2b"/>
<rect x="857" y="394" width="1" height="43" fill="#41a353"/>
<rect x="862" y="360" width="1" height="47" fill="#5a5a5a"/>
<rect x="861" y="388" width="3" height="6" fill="#1d5e2b"/>
<rect x="862" y="389" width="1" height="4" fill="#41a353"/>
<rect x="867" y="365" width="1" height="43" fill="#5a5a5a"/>
<rect x="866" y="384" width="3" height="12" fill="#1d5e2b"/>
<rect x="867" y="385" width="1" height="10" fill="#41a353"/>
<rect x="873" y="372" width="1" height="29" fill="#5a5a5a"/>
<rect x="872" y="389" width="3" height="10" fill="#64221a"/>
<rect x="873" y="390" width="1" height="8" fill="#cf4733"/>
<rect x="878" y="386" width="1" height="25" fill="#5a5a5a"/>
<rect x="877" y="390" width="3" height="15" fill="#1d5e2b"/>
<rect x="878" y="391" width="1" height="13" fill="#41a353"/>
<rect x="884" y="349" width="1" height="74" fill="#5a5a5a"/>
<rect x="883" y="372" width="3" height="20" fill="#1d5e2b"/>
<rect x="884" y="373" width="1" height="18" fill="#41a353"/>
<rect x="889" y="366" width="1" height="77" fill="#5a5a5a"/>
<rect x="888" y="376" width="3" height="23" fill="#64221a"/>
<rect x="889" y="377" width="1" height="21" fill="#cf4733"/>
<rect x="895" y="360" width="1" height="51" fill="#5a5a5a"/>
<rect x="894" y="378" width="3" height="10" fill="#1d5e2b"/>
<rect x="895" y="379" width="1" height="8" fill="#41a353"/>
<rect x="900" y="356" width="1" height="53" fill="#5a5a5a"/>
<rect x="899" y="375" width="3" height="5" fill="#64221a"/>
<rect x="900" y="376" width="1" height="3" fill="#cf4733"/>
<rect x="905" y="348" width="1" height="38" fill="#5a5a5a"/>
<rect x="904" y="375" width="3" height="5" fill="#64221a"/>
<rect x="905" y="376" width="1" height="3" fill="#cf4733"/>
<rect x="911" y="366" width="1" height="27" fill="#5a5a5a"/>
<rect x="910" y="386" width="3" height="1" fill="#1d5e2b"/>
<rect x="916" y="356" width="1" height="72" fill="#5a5a5a"/>
<rect x="915" y="374" width="3" height="11" fill="#1d5e2b"/>
<rect x="916" y="375" width="1" height="9" fill="#41a353"/>
<rect x="922" y="348" width="1" height="71" fill="#5a5a5a"/>
<rect x="921" y="372" width="3" height="45" fill="#64221a"/>
<rect x="922" y="373" width="1" height="43" fill="#cf4733"/>
<rect x="927" y="327" width="1" height="104" fill="#5a5a5a"/>
<rect x="926" y="334" width="3" height="83" fill="#1d5e2b"/>
<rect x="927" y="335" width="1" height="81" fill="#41a353"/>
<rect x="933" y="276" width="1" height="56" fill="#5a5a5a"/>
<rect x="932" y="291" width="3" height="29" fill="#1d5e2b"/>
<rect x="933" y="292" width="1" height="27" fill="#41a353"/>
<rect x="938" y="279" width="1" height="39" fill="#5a5a5a"/>
<rect x="937" y="294" width="3" height="23" fill="#64221a"/>
<rect x="938" y="295" width="1" height="21" fill="#cf4733"/>
<rect x="943" y="317" width="1" height="20" fill="#5a5a5a"/>
<rect x="942" y="319" width="3" height="8" fill="#64221a"/>
<rect x="943" y="320" width="1" height="6" fill="#cf4733"/>
<rect x="949" y="293" width="1" height="40" fill="#5a5a5a"/>
<rect x="948" y="319" width="3" height="11" fill="#1d5e2b"/>
<rect x="949" y="320" width="1" height="9" fill="#41a353"/>
<rect x="954" y="308" width="1" height="28" fill="#5a5a5a"/>
<rect x="953" y="315" width="3" height="10" fill="#64221a"/>
<rect x="954" y="316" width="1" height="8" fill="#cf4733"/>
<rect x="960" y="308" width="1" height="34" fill="#5a5a5a"/>
<rect x="959" y="321" width="3" height="14" fill="#1d5e2b"/>
<rect x="960" y="322" width="1" height="12" fill="#41a353"/>
<rect x="965" y="246" width="1" height="116" fill="#5a5a5a"/>
<rect x="964" y="253" width="3" height="68" fill="#1d5e2b"/>
<rect x="965" y="254" width="1" height="66" fill="#41a353"/>
<rect x="971" y="244" width="1" height="29" fill="#5a5a5a"/>
<rect x="970" y="253" width="3" height="15" fill="#64221a"/>
<rect x="971" y="254" width="1" height="13" fill="#cf4733"/>
<rect x="976" y="266" width="1" height="49" fill="#5a5a5a"/>
<rect x="975" y="273" width="3" height="33" fill="#64221a"/>
<rect x="976" y="274" width="1" height="31" fill="#cf4733"/>
<rect x="981" y="271" width="1" height="44" fill="#5a5a5a"/>
<rect x="980" y="300" width="3" height="5" fill="#64221a"/>
<rect x="981" y="301" width="1" height="3" fill="#cf4733"/>
<rect x="987" y="300" width="1" height="20" fill="#5a5a5a"/>
<rect x="986" y="310" width="3" height="9" fill="#1d5e2b"/>
<rect x="987" y="311" width="1" height="7" fill="#41a353"/>
<rect x="992" y="294" width="1" height="57" fill="#5a5a5a"/>
<rect x="991" y="302" width="3" height="27" fill="#64221a"/>
<rect x="992" y="303" width="1" height="25" fill="#cf4733"/>
<rect x="998" y="312" width="1" height="24" fill="#5a5a5a"/>
<rect x="997" y="328" width="3" height="5" fill="#64221a"/>
<rect x="998" y="329" width="1" height="3" fill="#cf4733"/>
<rect x="1003" y="318" width="1" height="78" fill="#5a5a5a"/>
<rect x="1002" y="336" width="3" height="6" fill="#1d5e2b"/>
<rect x="1003" y="337" width="1" height="4" fill="#41a353"/>
<rect x="1009" y="327" width="1" height="25" fill="#5a5a5a"/>
<rect x="1008" y="336" width="3" height="1" fill="#1d5e2b"/>
<rect x="1014" y="332" width="1" height="26" fill="#5a5a5a"/>
<rect x="1013" y="333" width="3" height="19" fill="#64221a"/>
<rect x="1014" y="334" width="1" height="17" fill="#cf4733"/>
<rect x="1019" y="339" width="1" height="28" fill="#5a5a5a"/>
<rect x="1018" y="349" width="3" height="3" fill="#1d5e2b"/>
<rect x="1019" y="350" width="1" height="1" fill="#41a353"/>
<rect x="1025" y="311" width="1" height="41" fill="#5a5a5a"/>
<rect x="1024" y="339" width="3" height="12" fill="#1d5e2b"/>
<rect x="1025" y="340" width="1" height="10" fill="#41a353"/>
<rect x="1030" y="314" width="1" height="49" fill="#5a5a5a"/>
<rect x="1029" y="324" width="3" height="14" fill="#1d5e2b"/>
<rect x="1030" y="325" width="1" height="12" fill="#41a353"/>
<rect x="1036" y="306" width="1" height="41" fill="#5a5a5a"/>
<rect x="1035" y="322" width="3" height="20" fill="#64221a"/>
<rect x="1036" y="323" width="1" height="18" fill="#cf4733"/>
<rect x="1041" y="338" width="1" height="18" fill="#5a5a5a"/>
<rect x="1040" y="348" width="3" height="3" fill="#1d5e2b"/>
<rect x="1041" y="349" width="1" height="1" fill="#41a353"/>
<rect x="1047" y="339" width="1" height="31" fill="#5a5a5a"/>
<rect x="1046" y="348" width="3" height="6" fill="#64221a"/>
<rect x="1047" y="349" width="1" height="4" fill="#cf4733"/>
<rect x="1052" y="343" width="1" height="62" fill="#5a5a5a"/>
<rect x="1051" y="348" width="3" height="43" fill="#64221a"/>
<rect x="1052" y="349" width="1" height="41" fill="#cf4733"/>
<rect x="1057" y="390" width="1" height="50" fill="#5a5a5a"/>
<rect x="1056" y="396" width="3" height="42" fill="#64221a"/>
<rect x="1057" y="397" width="1" height="40" fill="#cf4733"/>
<rect x="1063" y="431" width="1" height="51" fill="#5a5a5a"/>
<rect x="1062" y="443" width="3" height="2" fill="#1d5e2b"/>
<rect x="1068" y="427" width="1" height="27" fill="#5a5a5a"/>
<rect x="1067" y="436" width="3" height="14" fill="#1d5e2b"/>
<rect x="1068" y="437" width="1" height="12" fill="#41a353"/>
<rect x="1074" y="406" width="1" height="41" fill="#5a5a5a"/>
<rect x="1073" y="428" width="3" height="12" fill="#1d5e2b"/>
<rect x="1074" y="429" width="1" height="10" fill="#41a353"/>
<rect x="1079" y="420" width="1" height="32" fill="#5a5a5a"/>
<rect x="1078" y="429" width="3" height="12" fill="#64221a"/>
<rect x="1079" y="430" width="1" height="10" fill="#cf4733"/>
<rect x="1085" y="387" width="1" height="58" fill="#5a5a5a"/>
<rect x="1084" y="390" width="3" height="53" fill="#1d5e2b"/>
<rect x="1085" y="391" width="1" height="51" fill="#41a353"/>
<rect x="1090" y="380" width="1" height="16" fill="#5a5a5a"/>
<rect x="1089" y="384" width="3" height="6" fill="#1d5e2b"/>
<rect x="1090" y="385" width="1" height="4" fill="#41a353"/>
<rect x="1095" y="369" width="1" height="25" fill="#5a5a5a"/>
<rect x="1094" y="371" width="3" height="13" fill="#1d5e2b"/>
<rect x="1095" y="372" width="1" height="11" fill="#41a353"/>
<rect x="1101" y="329" width="1" height="44" fill="#5a5a5a"/>
<rect x="1100" y="351" width="3" height="21" fill="#1d5e2b"/>
<rect x="1101" y="352" width="1" height="19" fill="#41a353"/>
<rect x="1106" y="320" width="1" height="69" fill="#5a5a5a"/>
<rect x="1105" y="346" width="3" height="42" fill="#64221a"/>
<rect x="1106" y="347" width="1" height="40" fill="#cf4733"/>
<rect x="1112" y="327" width="1" height="80" fill="#5a5a5a"/>
<rect x="1111" y="331" width="3" height="71" fill="#1d5e2b"/>
<rect x="1112" y="332" width="1" height="69" fill="#41a353"/>
<rect x="1117" y="285" width="1" height="54" fill="#5a5a5a"/>
<rect x="1116" y="294" width="3" height="39" fill="#1d5e2b"/>
<rect x="1117" y="295" width="1" height="37" fill="#41a353"/>
<rect x="1123" y="288" width="1" height="31" fill="#5a5a5a"/>
<rect x="1122" y="294" width="3" height="18" fill="#64221a"/>
<rect x="1123" y="295" width="1" height="16" fill="#cf4733"/>
<rect x="1128" y="303" width="1" height="27" fill="#5a5a5a"/>
<rect x="1127" y="305" width="3" height="7" fill="#1d5e2b"/>
<rect x="1128" y="306" width="1" height="5" fill="#41a353"/>
<rect x="1133" y="290" width="1" height="22" fill="#5a5a5a"/>
<rect x="1132" y="305" width="3" height="1" fill="#64221a"/>
<rect x="1139" y="265" width="1" height="38" fill="#5a5a5a"/>
<rect x="1138" y="282" width="3" height="12" fill="#1d5e2b"/>
<rect x="1139" y="283" width="1" height="10" fill="#41a353"/>
<rect x="1144" y="236" width="1" height="58" fill="#5a5a5a"/>
<rect x="1143" y="246" width="3" height="43" fill="#1d5e2b"/>
<rect x="1144" y="247" width="1" height="41" fill="#41a353"/>
<rect x="1150" y="232" width="1" height="37" fill="#5a5a5a"/>
<rect x="1149" y="241" width="3" height="20" fill="#64221a"/>
<rect x="1150" y="242" width="1" height="18" fill="#cf4733"/>
<rect x="1155" y="255" width="1" height="55" fill="#5a5a5a"/>
<rect x="1154" y="260" width="3" height="49" fill="#64221a"/>
<rect x="1155" y="261" width="1" height="47" fill="#cf4733"/>
<rect x="1160" y="306" width="1" height="30" fill="#5a5a5a"/>
<rect x="1159" y="309" width="3" height="1" fill="#1d5e2b"/>
<rect x="1166" y="267" width="1" height="50" fill="#5a5a5a"/>
<rect x="1165" y="303" width="3" height="6" fill="#1d5e2b"/>
<rect x="1166" y="304" width="1" height="4" fill="#41a353"/>
<rect x="1171" y="291" width="1" height="30" fill="#5a5a5a"/>
<rect x="1170" y="297" width="3" height="22" fill="#64221a"/>
<rect x="1171" y="298" width="1" height="20" fill="#cf4733"/>
<rect x="1177" y="311" width="1" height="31" fill="#5a5a5a"/>
<rect x="1176" y="319" width="3" height="2" fill="#1d5e2b"/>
<rect x="1182" y="214" width="1" height="114" fill="#5a5a5a"/>
<rect x="1181" y="223" width="3" height="98" fill="#1d5e2b"/>
<rect x="1182" y="224" width="1" height="96" fill="#41a353"/>
<rect x="1188" y="194" width="1" height="44" fill="#5a5a5a"/>
<rect x="1187" y="215" width="3" height="8" fill="#1d5e2b"/>
<rect x="1188" y="216" width="1" height="6" fill="#41a353"/>
<rect x="1193" y="142" width="1" height="78" fill="#5a5a5a"/>
<rect x="1192" y="150" width="3" height="66" fill="#1d5e2b"/>
<rect x="1193" y="151" width="1" height="64" fill="#41a353"/>
<rect x="1198" y="129" width="1" height="37" fill="#5a5a5a"/>
<rect x="1197" y="134" width="3" height="23" fill="#1d5e2b"/>
<rect x="1198" y="135" width="1" height="21" fill="#41a353"/>
<rect x="1204" y="104" width="1" height="41" fill="#5a5a5a"/>
<rect x="1203" y="118" width="3" height="16" fill="#1d5e2b"/>
<rect x="1204" y="119" width="1" height="14" fill="#41a353"/>
<rect x="1209" y="112" width="1" height="51" fill="#5a5a5a"/>
<rect x="1208" y="122" width="3" height="35" fill="#64221a"/>
<rect x="1209" y="123" width="1" height="33" fill="#cf4733"/>
<rect x="1215" y="133" width="1" height="40" fill="#5a5a5a"/>
<rect x="1214" y="136" width="3" height="18" fill="#1d5e2b"/>
<rect x="1215" y="137" width="1" height="16" fill="#41a353"/>
<rect x="1220" y="118" width="1" height="46" fill="#5a5a5a"/>
<rect x="1219" y="135" width="3" height="5" fill="#64221a"/>
<rect x="1220" y="136" width="1" height="3" fill="#cf4733"/>
<rect x="1226" y="116" width="1" height="36" fill="#5a5a5a"/>
<rect x="1225" y="140" width="3" height="3" fill="#1d5e2b"/>
<rect x="1226" y="141" width="1" height="1" fill="#41a353"/>
<rect x="1231" y="130" width="1" height="56" fill="#5a5a5a"/>
<rect x="1230" y="140" width="3" height="39" fill="#64221a"/>
<rect x="1231" y="141" width="1" height="37" fill="#cf4733"/>
<rect x="1236" y="155" width="1" height="32" fill="#5a5a5a"/>
<rect x="1235" y="167" width="3" height="12" fill="#1d5e2b"/>
<rect x="1236" y="168" width="1" height="10" fill="#41a353"/>
<rect x="1242" y="149" width="1" height="48" fill="#5a5a5a"/>
<rect x="1241" y="167" width="3" height="21" fill="#64221a"/>
<rect x="1242" y="168" width="1" height="19" fill="#cf4733"/>
<rect x="1247" y="132" width="1" height="70" fill="#5a5a5a"/>
<rect x="1246" y="143" width="3" height="44" fill="#1d5e2b"/>
<rect x="1247" y="144" width="1" height="42" fill="#41a353"/>
<rect x="1253" y="141" width="1" height="58" fill="#5a5a5a"/>
<rect x="1252" y="154" width="3" height="27" fill="#64221a"/>
<rect x="1253" y="155" width="1" height="25" fill="#cf4733"/>
<rect x="1258" y="119" width="1" height="61" fill="#5a5a5a"/>
<rect x="1257" y="121" width="3" height="57" fill="#1d5e2b"/>
<rect x="1258" y="122" width="1" height="55" fill="#41a353"/>
<rect x="1264" y="106" width="1" height="94" fill="#5a5a5a"/>
<rect x="1263" y="121" width="3" height="63" fill="#64221a"/>
<rect x="1264" y="122" width="1" height="61" fill="#cf4733"/>
<rect x="1269" y="160" width="1" height="53" fill="#5a5a5a"/>
<rect x="1268" y="175" width="3" height="30" fill="#64221a"/>
<rect x="1269" y="176" width="1" height="28" fill="#cf4733"/>
<rect x="1274" y="207" width="1" height="75" fill="#5a5a5a"/>
<rect x="1273" y="213" width="3" height="22" fill="#64221a"/>
<rect x="1274" y="214" width="1" height="20" fill="#cf4733"/>
<rect x="1280" y="223" width="1" height="30" fill="#5a5a5a"/>
<rect x="1279" y="226" width="3" height="9" fill="#64221a"/>
<rect x="1280" y="227" width="1" height="7" fill="#cf4733"/>
<rect x="1285" y="203" width="1" height="36" fill="#5a5a5a"/>
<rect x="1284" y="208" width="3" height="21" fill="#1d5e2b"/>
<rect x="1285" y="209" width="1" height="19" fill="#41a353"/>
<rect x="1291" y="183" width="1" height="23" fill="#5a5a5a"/>
<rect x="1290" y="195" width="3" height="9" fill="#1d5e2b"/>
<rect x="1291" y="196" width="1" height="7" fill="#41a353"/>
<rect x="1296" y="174" width="1" height="50" fill="#5a5a5a"/>
<rect x="1295" y="195" width="3" height="28" fill="#64221a"/>
<rect x="1296" y="196" width="1" height="26" fill="#cf4733"/>
<rect x="1302" y="206" width="1" height="25" fill="#5a5a5a"/>
<rect x="1301" y="215" width="3" height="9" fill="#1d5e2b"/>
<rect x="1302" y="216" width="1" height="7" fill="#41a353"/>
<rect x="1307" y="211" width="1" height="28" fill="#5a5a5a"/>
<rect x="1306" y="214" width="3" height="10" fill="#64221a"/>
<rect x="1307" y="215" width="1" height="8" fill="#cf4733"/>
<rect x="1312" y="199" width="1" height="49" fill="#5a5a5a"/>
<rect x="1311" y="226" width="3" height="18" fill="#64221a"/>
<rect x="1312" y="227" width="1" height="16" fill="#cf4733"/>
<rect x="1318" y="238" width="1" height="71" fill="#5a5a5a"/>
<rect x="1317" y="239" width="3" height="69" fill="#64221a"/>
<rect x="1318" y="240" width="1" height="67" fill="#cf4733"/>
<rect x="1323" y="278" width="1" height="47" fill="#5a5a5a"/>
<rect x="1322" y="287" width="3" height="28" fill="#1d5e2b"/>
<rect x="1323" y="288" width="1" height="26" fill="#41a353"/>
<rect x="1329" y="262" width="1" height="35" fill="#5a5a5a"/>
<rect x="1328" y="289" width="3" height="1" fill="#64221a"/>
<rect x="1334" y="275" width="1" height="22" fill="#5a5a5a"/>
<rect x="1333" y="278" width="3" height="15" fill="#1d5e2b"/>
<rect x="1334" y="279" width="1" height="13" fill="#41a353"/>
<rect x="1340" y="264" width="1" height="27" fill="#5a5a5a"/>
<rect x="1339" y="277" width="3" height="3" fill="#1d5e2b"/>
<rect x="1340" y="278" width="1" height="1" fill="#41a353"/>
<rect x="1345" y="248" width="1" height="36" fill="#5a5a5a"/>
<rect x="1344" y="250" width="3" height="27" fill="#1d5e2b"/>
<rect x="1345" y="251" width="1" height="25" fill="#41a353"/>
<rect x="1350" y="233" width="1" height="44" fill="#5a5a5a"/>
<rect x="1349" y="242" width="3" height="8" fill="#1d5e2b"/>
<rect x="1350" y="243" width="1" height="6" fill="#41a353"/>
<rect x="1356" y="232" width="1" height="44" fill="#5a5a5a"/>
<rect x="1355" y="238" width="3" height="30" fill="#64221a"/>
<rect x="1356" y="239" width="1" height="28" fill="#cf4733"/>
<rect x="1361" y="266" width="1" height="17" fill="#5a5a5a"/>
<rect x="1360" y="267" width="3" height="14" fill="#64221a"/>
<rect x="1361" y="268" width="1" height="12" fill="#cf4733"/>
<rect x="1367" y="276" width="1" height="27" fill="#5a5a5a"/>
<rect x="1366" y="278" width="3" height="6" fill="#1d5e2b"/>
<rect x="1367" y="279" width="1" height="4" fill="#41a353"/>
<rect x="1372" y="229" width="1" height="51" fill="#5a5a5a"/>
<rect x="1371" y="231" width="3" height="43" fill="#1d5e2b"/>
<rect x="1372" y="232" width="1" height="41" fill="#41a353"/>
<rect x="1378" y="226" width="1" height="50" fill="#5a5a5a"/>
<rect x="1377" y="231" width="3" height="34" fill="#64221a"/>
<rect x="1378" y="232" width="1" height="32" fill="#cf4733"/>
<rect x="1383" y="252" width="1" height="43" fill="#5a5a5a"/>
<rect x="1382" y="263" width="3" height="32" fill="#64221a"/>
<rect x="1383" y="264" width="1" height="30" fill="#cf4733"/>
</g>
</g>
<g clip-path="url(#c2)">
<polyline points="3.0,682.2 10.1,679.2 18.9,683.2 27.8,681.7 37.9,677.2 48.0,680.7 58.1,683.2 68.2,684.0 80.8,684.7 93.4,685.3 106.1,685.3 118.7,686.5 126.3,682.7 133.8,685.8 140.2,680.7 146.5,678.2 154.0,680.7 161.6,682.7 166.7,682.2 173.0,678.9 179.3,680.7 186.9,682.2 193.2,683.2 199.5,677.2 204.5,676.4 212.1,678.9 222.2,677.7 228.5,678.9 232.3,677.2 238.6,679.7 243.7,678.2 250.0,681.5 255.1,679.2 260.1,680.2 265.2,679.2 272.7,680.7 282.8,682.2 292.9,685.8 300.5,684.5 310.6,682.2 318.2,684.7 325.8,680.7 333.3,678.9 340.9,675.7 346.0,678.2 352.3,677.2 361.1,680.7 368.7,683.2 377.5,684.2 383.8,685.3 389.6,682.2 397.7,686.5 405.3,689.0 411.6,686.5 421.7,689.0 428.0,688.5 433.0,690.6 439.3,689.0 444.4,687.3 449.4,686.8 455.3,683.2 460.8,683.5 465.9,682.7 471.4,682.7 477.2,678.9 483.5,679.4 488.6,680.2 493.1,681.7 498.2,677.2 503.7,678.4 513.8,680.7 520.2,681.0 526.5,679.9 531.5,682.7 536.6,680.7 542.1,677.2 547.9,679.7 554.2,682.2 558.0,683.0 563.1,682.2 568.9,678.4 574.4,679.4 579.5,678.2 585.1,672.1 592.1,674.6 601.0,678.2 606.8,678.4 612.3,682.2 617.9,684.5 622.9,673.4 628.7,674.6 633.8,675.7 640.1,675.2 645.2,675.9 650.2,677.2 655.8,676.4 661.6,679.4 667.9,680.7 672.4,683.5 678.0,682.7 683.0,683.0 688.6,680.5 699.4,680.2 704.5,681.0 710.1,683.5 715.4,679.7 720.9,678.2 726.5,681.0 732.3,681.0 737.3,674.6 743.1,670.6 748.2,670.1 753.7,674.4 758.8,675.2 765.1,676.7 770.1,676.4 775.7,678.2 780.7,680.7 786.5,679.7 791.6,679.7 797.4,682.2 802.4,679.2 808.0,679.2 813.0,681.5 818.8,676.2 824.4,676.9 829.4,678.2 835.0,680.7 840.8,681.2 845.9,682.2 851.4,684.5 856.7,682.7 862.3,684.2 867.3,685.5 873.1,687.8 878.2,691.1 883.7,688.3 888.8,686.3 900.2,686.0 905.2,687.8 911.0,690.3 916.6,687.3 922.1,685.3 926.7,679.7 933.0,679.4 938.0,681.5 943.1,685.0 948.9,686.3 953.9,688.8 960.0,690.8 965.1,683.5 970.9,685.8 975.9,686.3 981.0,687.0 986.8,690.3 992.3,689.8 997.9,692.3 1002.9,689.5 1008.7,692.3 1013.8,694.8 1019.6,697.4 1025.2,698.1 1030.2,697.6 1035.8,698.1 1041.6,701.2 1047.1,702.4 1052.4,699.9 1058.0,699.1 1063.0,698.4 1068.6,700.4 1073.9,700.9 1079.4,702.2 1085.0,700.4 1090.1,703.4 1095.4,705.7 1100.9,705.2 1106.5,700.9 1112.3,696.6 1117.3,695.6 1122.9,697.4 1128.8,700.4 1133.8,702.9 1138.9,703.4 1144.7,700.7 1150.3,701.2 1155.3,699.6 1160.4,701.2 1165.9,700.4 1171.7,702.4 1176.8,704.4 1181.8,694.8 1187.4,694.6 1192.7,691.3 1198.2,692.8 1203.3,693.3 1209.1,693.6 1214.6,694.3 1220.5,694.6 1226.0,695.6 1231.1,694.3 1236.1,696.4 1241.2,696.1 1247.0,692.8 1252.5,691.8 1258.1,690.3 1263.9,685.3 1269.4,684.2 1274.0,682.2 1279.5,684.5 1285.4,686.8 1290.4,689.5 1296.2,690.1 1301.8,692.8 1307.3,695.4 1312.6,695.1 1318.2,692.1 1323.2,692.1 1329.0,693.6 1334.6,696.6 1339.6,698.9 1345.2,699.9 1350.5,699.9 1356.1,699.9 1361.6,703.4 1366.9,705.7 1372.5,704.7 1377.5,703.4 1382.6,702.9" fill="none" stroke="#c0323a" stroke-width="1.2" stroke-linejoin="round" stroke-linecap="round" />
</g>
<g clip-path="url(#c3)">
<rect x="3" y="736" width="1437.5" height="32" fill="#2196f3" fill-opacity="0.1"/>
<line x1="3" x2="1440.5" y1="735.5" y2="735.5" stroke="#6e7079" stroke-width="1" stroke-dasharray="5 6" shape-rendering="crispEdges"/>
<line x1="3" x2="1440.5" y1="751.5" y2="751.5" stroke="#6e7079" stroke-width="1" stroke-dasharray="5 6" shape-rendering="crispEdges"/>
<line x1="3" x2="1440.5" y1="768.5" y2="768.5" stroke="#6e7079" stroke-width="1" stroke-dasharray="5 6" shape-rendering="crispEdges"/>
<polyline points="3.0,741.3 10.1,749.6 15.2,752.2 20.2,752.7 34.1,772.4 44.2,782.5 51.8,771.6 59.3,772.9 63.1,770.6 70.7,759.5 75.8,759.5 80.3,761.8 90.9,747.9 102.3,750.4 107.3,748.4 113.1,740.3 117.4,740.3 122.5,754.7 128.8,769.8 133.8,778.7 140.2,795.6 146.0,798.4 155.3,779.9 161.6,774.9 167.9,767.3 178.0,758.5 188.1,753.9 193.9,756.0 199.5,752.2 205.8,747.6 210.9,745.9 217.2,738.3 222.2,734.0 226.8,732.0 231.8,737.5 237.4,737.5 242.9,734.0 248.7,735.8 253.8,738.8 260.1,734.5 265.2,730.2 271.5,731.5 276.5,729.2 286.6,730.2 292.4,734.5 303.0,733.5 313.9,727.4 319.4,731.2 324.5,738.3 330.3,748.4 335.9,745.1 340.9,734.5 346.0,730.7 352.3,721.9 362.4,721.4 367.4,726.9 373.7,735.8 380.0,737.0 383.8,736.5 390.1,731.5 394.6,731.0 400.2,735.0 406.5,738.5 411.6,737.5 417.4,732.5 421.7,732.5 433.0,725.7 438.8,718.6 444.4,726.9 449.9,735.3 455.0,725.7 460.1,723.4 465.9,730.7 471.4,738.3 482.3,744.6 488.6,751.4 493.1,755.2 498.2,745.9 503.7,739.0 509.3,745.9 515.1,749.1 520.2,745.4 526.5,750.9 531.0,755.2 535.8,773.6 541.6,765.3 546.7,745.9 553.0,735.3 558.0,742.1 563.1,753.4 568.9,741.6 573.9,726.2 579.5,756.0 585.1,787.0 590.9,787.3 595.9,771.9 601.0,768.1 606.8,762.8 612.3,758.0 617.9,761.0 622.9,784.7 628.7,785.0 633.8,779.2 638.8,777.9 645.2,779.4 650.2,775.7 655.8,768.6 661.6,767.3 667.9,767.8 672.4,768.6 678.0,771.1 683.0,770.6 688.6,764.0 693.9,761.8 699.4,758.5 704.5,754.7 710.1,749.6 715.4,754.7 720.9,748.4 726.0,739.8 732.3,747.6 737.3,766.1 743.1,791.3 748.2,779.9 753.2,772.4 758.8,773.6 763.8,768.6 770.1,772.6 775.7,773.9 780.7,772.9 786.5,774.9 791.6,771.9 797.4,767.3 802.4,759.2 808.0,753.4 813.0,752.7 818.8,750.2 824.4,751.2 829.4,747.6 835.0,745.4 840.1,743.3 845.9,742.8 851.4,739.8 857.2,725.2 862.3,721.6 867.3,726.2 873.1,729.4 878.2,732.7 883.7,731.7 889.3,738.3 895.1,735.8 900.2,737.0 905.2,736.3 911.0,739.8 916.6,742.1 922.1,744.6 927.2,736.5 933.0,719.1 938.0,721.4 943.1,729.2 948.9,727.7 953.9,733.2 960.0,735.8 965.1,727.4 970.9,725.4 975.9,736.5 981.0,738.8 986.8,742.8 992.3,747.6 997.9,749.1 1002.9,757.2 1008.7,754.9 1013.8,759.0 1018.8,762.0 1025.2,756.0 1030.2,758.5 1035.8,758.5 1041.6,766.3 1047.1,769.3 1052.4,779.9 1057.5,792.1 1063.0,792.1 1068.6,780.7 1073.9,773.6 1079.4,772.1 1085.0,763.0 1090.1,756.0 1095.4,752.2 1100.9,743.8 1106.5,747.4 1112.3,743.8 1116.6,729.7 1122.9,731.5 1128.8,735.0 1133.8,732.5 1138.9,729.4 1144.7,726.2 1150.3,728.7 1155.3,737.0 1160.4,743.3 1165.9,740.8 1171.7,745.4 1176.8,748.9 1181.8,733.2 1187.4,723.1 1192.7,714.3 1198.2,715.6 1203.8,718.8 1209.1,727.7 1214.6,731.5 1220.5,733.5 1226.0,735.3 1231.1,740.3 1236.1,742.6 1241.9,744.6 1247.0,742.3 1252.5,745.1 1258.1,740.6 1263.9,745.1 1269.4,753.9 1274.0,764.3 1279.5,767.3 1285.4,766.1 1290.9,760.5 1296.7,764.0 1301.8,766.8 1307.3,767.6 1312.6,768.6 1318.2,781.7 1323.7,778.7 1329.0,773.6 1334.6,770.6 1339.6,766.1 1345.2,760.5 1350.5,758.0 1356.1,759.2 1361.6,763.0 1366.9,765.1 1372.5,750.9 1377.5,753.9 1382.6,762.3" fill="none" stroke="#2962ff" stroke-width="1.2" stroke-linejoin="round" stroke-linecap="round" />
</g>
<line x1="1440.5" x2="1440.5" y1="3" y2="831.7" stroke="#4a4a4a" stroke-width="1" shape-rendering="crispEdges"/>
<line x1="3" x2="1501.7" y1="804.5" y2="804.5" stroke="#4a4a4a" stroke-width="1" shape-rendering="crispEdges"/>
<text x="1449.7" y="72.3" font-size="12.4" fill="#555862" text-anchor="start" textLength="41.3" lengthAdjust="spacingAndGlyphs" >107.000</text>
<text x="1449.7" y="116.8" font-size="12.4" fill="#555862" text-anchor="start" textLength="41.3" lengthAdjust="spacingAndGlyphs" >106.500</text>
<text x="1449.7" y="161.3" font-size="12.4" fill="#555862" text-anchor="start" textLength="41.3" lengthAdjust="spacingAndGlyphs" >106.000</text>
<text x="1449.7" y="205.8" font-size="12.4" fill="#555862" text-anchor="start" textLength="41.3" lengthAdjust="spacingAndGlyphs" >105.500</text>
<text x="1449.7" y="250.3" font-size="12.4" fill="#555862" text-anchor="start" textLength="41.3" lengthAdjust="spacingAndGlyphs" >105.000</text>
<text x="1449.7" y="294.8" font-size="12.4" fill="#555862" text-anchor="start" textLength="41.3" lengthAdjust="spacingAndGlyphs" >104.500</text>
<text x="1449.7" y="339.3" font-size="12.4" fill="#555862" text-anchor="start" textLength="41.3" lengthAdjust="spacingAndGlyphs" >104.000</text>
<text x="1449.7" y="383.8" font-size="12.4" fill="#555862" text-anchor="start" textLength="41.3" lengthAdjust="spacingAndGlyphs" >103.500</text>
<text x="1449.7" y="428.3" font-size="12.4" fill="#555862" text-anchor="start" textLength="41.3" lengthAdjust="spacingAndGlyphs" >103.000</text>
<text x="1449.7" y="472.8" font-size="12.4" fill="#555862" text-anchor="start" textLength="41.3" lengthAdjust="spacingAndGlyphs" >102.500</text>
<text x="1449.7" y="517.3" font-size="12.4" fill="#555862" text-anchor="start" textLength="41.3" lengthAdjust="spacingAndGlyphs" >102.000</text>
<text x="1449.7" y="561.8" font-size="12.4" fill="#555862" text-anchor="start" textLength="41.3" lengthAdjust="spacingAndGlyphs" >101.500</text>
<text x="1449.7" y="606.3" font-size="12.4" fill="#555862" text-anchor="start" textLength="41.3" lengthAdjust="spacingAndGlyphs" >101.000</text>
<text x="1449.7" y="650.8" font-size="12.4" fill="#555862" text-anchor="start" textLength="41.3" lengthAdjust="spacingAndGlyphs" >100.500</text>
<text x="1448.7" y="704.1" font-size="12.4" fill="#555862" text-anchor="start" textLength="27.8" lengthAdjust="spacingAndGlyphs" >0.500</text>
<text x="1448.7" y="723.1" font-size="12.4" fill="#555862" text-anchor="start" textLength="34.9" lengthAdjust="spacingAndGlyphs" >200.00</text>
<text x="1448.7" y="755.9" font-size="12.4" fill="#555862" text-anchor="start" textLength="22.0" lengthAdjust="spacingAndGlyphs" >0.00</text>
<text x="1448.7" y="788.2" font-size="12.4" fill="#555862" text-anchor="start" textLength="41.9" lengthAdjust="spacingAndGlyphs" >−200.00</text>
<path d="M1441 27.7 H1495.5 a2 2 0 0 1 2 2 V42.7 a2 2 0 0 1 -2 2 H1441 Z" fill="#000"/>
<text x="1449.7" y="40.7" font-size="12.4" fill="#fff" text-anchor="start" font-weight="bold" textLength="41.3" lengthAdjust="spacingAndGlyphs" >107.355</text>
<path d="M1441 235.5 H1495.5 a2 2 0 0 1 2 2 V250.5 a2 2 0 0 1 -2 2 H1441 Z" fill="#000"/>
<text x="1449.7" y="248.5" font-size="12.4" fill="#fff" text-anchor="start" font-weight="bold" textLength="41.3" lengthAdjust="spacingAndGlyphs" >105.020</text>
<path d="M1441 473.7 H1495.5 a2 2 0 0 1 2 2 V488.7 a2 2 0 0 1 -2 2 H1441 Z" fill="#000"/>
<text x="1449.7" y="486.7" font-size="12.4" fill="#fff" text-anchor="start" font-weight="bold" textLength="41.3" lengthAdjust="spacingAndGlyphs" >102.344</text>
<path d="M1441 624.9 H1495.5 a2 2 0 0 1 2 2 V639.9 a2 2 0 0 1 -2 2 H1441 Z" fill="#000"/>
<text x="1449.7" y="637.9" font-size="12.4" fill="#fff" text-anchor="start" font-weight="bold" textLength="41.3" lengthAdjust="spacingAndGlyphs" >100.645</text>
<rect x="1441" y="3.5" width="60.200000000000045" height="33.35" fill="#fff"/>
<rect x="1444.5" y="7.5" width="53" height="25" rx="4" fill="#fff" stroke="#e0e3eb"/>
<text x="1448.5" y="24.0" font-size="12.8" fill="#131722" text-anchor="start" textLength="20.5" lengthAdjust="spacingAndGlyphs" >USD</text>
<path d="M1487.8 19.0 l2.6 2.6 l2.6 -2.6" fill="none" stroke="#131722" stroke-width="1.3"/>
<text x="102.5" y="822.0" font-size="12" fill="#555862" text-anchor="middle" >Jul</text>
<text x="216.5" y="822.0" font-size="12" fill="#555862" text-anchor="middle" >Aug</text>
<text x="341.5" y="822.0" font-size="12" fill="#555862" text-anchor="middle" >Sep</text>
<text x="455.5" y="822.0" font-size="12" fill="#555862" text-anchor="middle" >Oct</text>
<text x="574.5" y="822.0" font-size="12" fill="#555862" text-anchor="middle" >Nov</text>
<text x="694.5" y="822.0" font-size="12" fill="#555862" text-anchor="middle" >Dec</text>
<text x="802.5" y="822.0" font-size="12" fill="#131722" text-anchor="middle" font-weight="bold" >2024</text>
<text x="922.5" y="822.0" font-size="12" fill="#555862" text-anchor="middle" >Feb</text>
<text x="1036.5" y="822.0" font-size="12" fill="#555862" text-anchor="middle" >Mar</text>
<text x="1144.5" y="822.0" font-size="12" fill="#555862" text-anchor="middle" >Apr</text>
<text x="1264.5" y="822.0" font-size="12" fill="#555862" text-anchor="middle" >May</text>
<text x="1388.5" y="822.0" font-size="12" fill="#555862" text-anchor="middle" >Jun</text>
<g transform="translate(1471,818)" fill="none" stroke="#131722" stroke-width="1.2"><path d="M-6.2 0 L-3.1 -5.6 H3.1 L6.2 0 L3.1 5.6 H-3.1 Z"/><circle r="2"/></g>
<rect x="8" y="6" width="664" height="27" fill="#fff" fill-opacity="0.6"/>
<rect x="8" y="35" width="174" height="27" fill="#fff" fill-opacity="0.6"/>
<rect x="8" y="63" width="566" height="24" fill="#fff" fill-opacity="0.6"/>
<rect x="8" y="673" width="115" height="23" fill="#fff" fill-opacity="0.6"/>
<rect x="8" y="716" width="156" height="18.5" fill="#fff" fill-opacity="0.6"/>
<circle cx="21.05" cy="18.95" r="9.05" fill="#0c8770"/>
<text x="21.1" y="24.0" font-size="14" fill="#fff" text-anchor="middle" font-weight="bold" >S</text>
<path d="M21.05 15.2 v1.3 M21.05 21.2 v1.3" stroke="#0c8770" stroke-width="0.9" fill="none"/>
<text x="34.6" y="24.7" font-size="15.2" fill="#54565c" text-anchor="start" textLength="107.4" lengthAdjust="spacingAndGlyphs" >US Dollar Index</text>
<text x="148.4" y="24.7" font-size="15.2" fill="#54565c" text-anchor="middle" >·</text>
<text x="157.0" y="24.7" font-size="15.2" fill="#54565c" text-anchor="start" textLength="15.0" lengthAdjust="spacingAndGlyphs" >1D</text>
<text x="178.7" y="24.7" font-size="15.2" fill="#54565c" text-anchor="middle" >·</text>
<text x="186.0" y="24.7" font-size="15.2" fill="#54565c" text-anchor="start" textLength="97.5" lengthAdjust="spacingAndGlyphs" >PEPPERSTONE</text>
<circle cx="307.8" cy="18.8" r="9" fill="#089981" fill-opacity="0.18"/><circle cx="307.8" cy="18.8" r="4" fill="#089981"/>
<text x="333.6" y="24.0" font-size="13" fill="#54565c" text-anchor="start" >O</text>
<text x="343.9" y="24.0" font-size="13" fill="#6e2b2b" text-anchor="start" textLength="44.3" lengthAdjust="spacingAndGlyphs" >104.806</text>
<text x="395.7" y="24.0" font-size="13" fill="#54565c" text-anchor="start" >H</text>
<text x="405.4" y="24.0" font-size="13" fill="#6e2b2b" text-anchor="start" textLength="44.3" lengthAdjust="spacingAndGlyphs" >104.926</text>
<text x="456.5" y="24.0" font-size="13" fill="#54565c" text-anchor="start" >L</text>
<text x="464.5" y="24.0" font-size="13" fill="#6e2b2b" text-anchor="start" textLength="44.3" lengthAdjust="spacingAndGlyphs" >104.436</text>
<text x="515.9" y="24.0" font-size="13" fill="#54565c" text-anchor="start" >C</text>
<text x="525.6" y="24.0" font-size="13" fill="#6e2b2b" text-anchor="start" textLength="44.3" lengthAdjust="spacingAndGlyphs" >104.451</text>
<text x="576.5" y="24.0" font-size="13" fill="#6e2b2b" text-anchor="start" textLength="90.5" lengthAdjust="spacingAndGlyphs" >−0.329 (−0.31%)</text>
<rect x="11.6" y="35.7" width="61" height="22.6" rx="4" fill="#fff" stroke="#f23645" stroke-width="1"/>
<text x="19.6" y="51.8" font-size="12.2" fill="#f23645" text-anchor="start" textLength="43.9" lengthAdjust="spacingAndGlyphs" >104.451</text>
<text x="80.9" y="50.8" font-size="11.2" fill="#131722" text-anchor="start" textLength="26.7" lengthAdjust="spacingAndGlyphs" >0.050</text>
<rect x="116.5" y="35.7" width="61" height="22.6" rx="4" fill="#fff" stroke="#2962ff" stroke-width="1"/>
<text x="124.9" y="51.8" font-size="12.2" fill="#2962ff" text-anchor="start" textLength="43.7" lengthAdjust="spacingAndGlyphs" >104.501</text>
<text x="12.0" y="80.1" font-size="12.5" fill="#54565c" text-anchor="start" textLength="383.0" lengthAdjust="spacingAndGlyphs" >MA Ribbon SMA close 20 SMA close 50 SMA close 100 SMA close 200</text>
<text x="404.5" y="80.1" font-size="12.5" fill="#f23645" text-anchor="start" textLength="44.0" lengthAdjust="spacingAndGlyphs" >104.902</text>
<text x="456.0" y="80.1" font-size="12.5" fill="#2962ff" text-anchor="start" textLength="44.0" lengthAdjust="spacingAndGlyphs" >105.140</text>
<text x="511.3" y="80.1" font-size="11.9" fill="#131722" text-anchor="middle" >∅</text>
<text x="522.2" y="80.1" font-size="12.5" fill="#131722" text-anchor="start" textLength="43.8" lengthAdjust="spacingAndGlyphs" >104.452</text>
<rect x="12.5" y="89.5" width="28" height="20" rx="3" fill="#fff" stroke="#d1d4dc"/>
<path d="M22.5 101.3 l4 -4 l4 4" fill="none" stroke="#131722" stroke-width="1.4"/>
<text x="12.0" y="688.8" font-size="12.2" fill="#54565c" text-anchor="start" textLength="67.0" lengthAdjust="spacingAndGlyphs" >ATR 14 RMA</text>
<text x="87.9" y="688.8" font-size="12.2" fill="#b71c1c" text-anchor="start" textLength="30.8" lengthAdjust="spacingAndGlyphs" >0.477</text>
<text x="12.0" y="730.8" font-size="12.2" fill="#54565c" text-anchor="start" textLength="102.0" lengthAdjust="spacingAndGlyphs" >CCI 20 hlc3 SMA 5</text>
<text x="122.7" y="730.8" font-size="12.2" fill="#2962ff" text-anchor="start" textLength="36.9" lengthAdjust="spacingAndGlyphs" >−71.11</text>
<rect x="12" y="772" width="33" height="21" fill="#fff"/>
<g fill="#131722"><path d="M15 775 H27 V789.8 H21 V781 H15 Z"/><circle cx="31.9" cy="778" r="2.9"/><path d="M38.4 775 H44.7 L39 789.8 H32.2 Z"/></g>
<g opacity="0.72"><g font-family="Noto Sans CJK SC, WenQuanYi Zen Hei, sans-serif" font-weight="700" filter="url(#sh)">
<text transform="translate(1254,792) skewX(-16)" font-size="60" fill="#fff" textLength="246" lengthAdjust="spacingAndGlyphs">海马财经</text>
</g></g>
<g opacity="0.62" font-size="31" font-weight="bold" font-style="normal">
<text transform="translate(1270,828) skewX(-14)" fill="#2465c4" textLength="222" x="1.8" y="1.8">zzrt01.cn</text>
<text transform="translate(1270,828) skewX(-14)" fill="#559cf5" textLength="222">zzrt01.cn</text>
</g>
</svg>
</body></html>
